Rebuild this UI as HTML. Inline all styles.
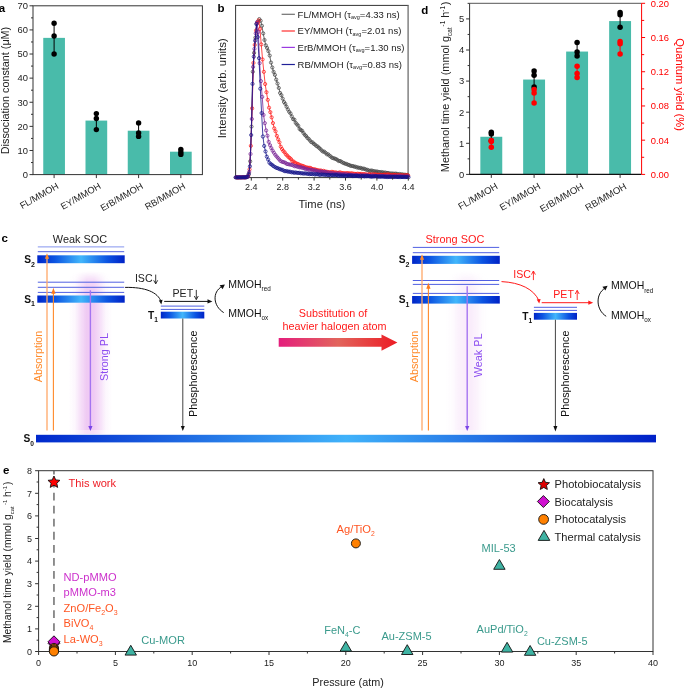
<!DOCTYPE html>
<html><head><meta charset="utf-8"><style>
html,body{margin:0;padding:0;background:#fff;}
svg{display:block;will-change:transform;}
text{font-family:"Liberation Sans", sans-serif;}
</style></head><body>
<svg width="685" height="688" viewBox="0 0 685 688" font-family="Liberation Sans, sans-serif">
<rect width="685" height="688" fill="#fff"/>
<rect x="43.25" y="37.87" width="21.7" height="136.73" fill="#49bbaa"/>
<rect x="85.50" y="120.58" width="21.7" height="54.02" fill="#49bbaa"/>
<rect x="127.75" y="130.71" width="21.7" height="43.89" fill="#49bbaa"/>
<rect x="170.00" y="151.69" width="21.7" height="22.91" fill="#49bbaa"/>
<line x1="54.10" y1="23.20" x2="54.10" y2="54.00" stroke="#000" stroke-width="1" />
<circle cx="54.10" cy="23.20" r="2.7" fill="#000"/>
<circle cx="54.10" cy="36.00" r="2.7" fill="#000"/>
<circle cx="54.10" cy="54.00" r="2.7" fill="#000"/>
<line x1="96.35" y1="113.60" x2="96.35" y2="129.60" stroke="#000" stroke-width="1" />
<circle cx="96.35" cy="113.60" r="2.7" fill="#000"/>
<circle cx="96.35" cy="118.50" r="2.7" fill="#000"/>
<circle cx="96.35" cy="129.60" r="2.7" fill="#000"/>
<line x1="138.60" y1="122.90" x2="138.60" y2="136.40" stroke="#000" stroke-width="1" />
<circle cx="138.60" cy="122.90" r="2.7" fill="#000"/>
<circle cx="138.60" cy="132.90" r="2.7" fill="#000"/>
<circle cx="138.60" cy="136.40" r="2.7" fill="#000"/>
<line x1="180.85" y1="149.50" x2="180.85" y2="154.40" stroke="#000" stroke-width="1" />
<circle cx="180.85" cy="149.50" r="2.7" fill="#000"/>
<circle cx="180.85" cy="152.20" r="2.7" fill="#000"/>
<circle cx="180.85" cy="154.40" r="2.7" fill="#000"/>
<rect x="33.0" y="5.8" width="169.4" height="168.79999999999998" fill="none" stroke="#333" stroke-width="1"/>
<line x1="29.50" y1="174.60" x2="33.00" y2="174.60" stroke="#333" stroke-width="1" />
<text x="28.00" y="177.90" font-size="9.4" text-anchor="end" fill="#222" font-weight="normal" >0</text>
<line x1="31.00" y1="162.54" x2="33.00" y2="162.54" stroke="#333" stroke-width="1" />
<line x1="29.50" y1="150.49" x2="33.00" y2="150.49" stroke="#333" stroke-width="1" />
<text x="28.00" y="153.79" font-size="9.4" text-anchor="end" fill="#222" font-weight="normal" >10</text>
<line x1="31.00" y1="138.43" x2="33.00" y2="138.43" stroke="#333" stroke-width="1" />
<line x1="29.50" y1="126.37" x2="33.00" y2="126.37" stroke="#333" stroke-width="1" />
<text x="28.00" y="129.67" font-size="9.4" text-anchor="end" fill="#222" font-weight="normal" >20</text>
<line x1="31.00" y1="114.31" x2="33.00" y2="114.31" stroke="#333" stroke-width="1" />
<line x1="29.50" y1="102.26" x2="33.00" y2="102.26" stroke="#333" stroke-width="1" />
<text x="28.00" y="105.56" font-size="9.4" text-anchor="end" fill="#222" font-weight="normal" >30</text>
<line x1="31.00" y1="90.20" x2="33.00" y2="90.20" stroke="#333" stroke-width="1" />
<line x1="29.50" y1="78.14" x2="33.00" y2="78.14" stroke="#333" stroke-width="1" />
<text x="28.00" y="81.44" font-size="9.4" text-anchor="end" fill="#222" font-weight="normal" >40</text>
<line x1="31.00" y1="66.09" x2="33.00" y2="66.09" stroke="#333" stroke-width="1" />
<line x1="29.50" y1="54.03" x2="33.00" y2="54.03" stroke="#333" stroke-width="1" />
<text x="28.00" y="57.33" font-size="9.4" text-anchor="end" fill="#222" font-weight="normal" >50</text>
<line x1="31.00" y1="41.97" x2="33.00" y2="41.97" stroke="#333" stroke-width="1" />
<line x1="29.50" y1="29.91" x2="33.00" y2="29.91" stroke="#333" stroke-width="1" />
<text x="28.00" y="33.21" font-size="9.4" text-anchor="end" fill="#222" font-weight="normal" >60</text>
<line x1="31.00" y1="17.86" x2="33.00" y2="17.86" stroke="#333" stroke-width="1" />
<line x1="29.50" y1="5.80" x2="33.00" y2="5.80" stroke="#333" stroke-width="1" />
<text x="28.00" y="9.10" font-size="9.4" text-anchor="end" fill="#222" font-weight="normal" >70</text>
<line x1="54.10" y1="174.60" x2="54.10" y2="178.10" stroke="#333" stroke-width="1" />
<line x1="96.35" y1="174.60" x2="96.35" y2="178.10" stroke="#333" stroke-width="1" />
<line x1="138.60" y1="174.60" x2="138.60" y2="178.10" stroke="#333" stroke-width="1" />
<line x1="180.85" y1="174.60" x2="180.85" y2="178.10" stroke="#333" stroke-width="1" />
<text x="59.30" y="187.80" font-size="9.3" text-anchor="end" fill="#222" transform="rotate(-30 59.30 187.80)">FL/MMOH</text>
<text x="101.55" y="187.80" font-size="9.3" text-anchor="end" fill="#222" transform="rotate(-30 101.55 187.80)">EY/MMOH</text>
<text x="143.80" y="187.80" font-size="9.3" text-anchor="end" fill="#222" transform="rotate(-30 143.80 187.80)">ErB/MMOH</text>
<text x="186.05" y="187.80" font-size="9.3" text-anchor="end" fill="#222" transform="rotate(-30 186.05 187.80)">RB/MMOH</text>
<text x="0" y="0" font-size="10.8" text-anchor="middle" fill="#222" transform="translate(9.2 90.5) rotate(-90)">Dissociation constant (μM)</text>
<text x="-1.20" y="12.20" font-size="11.5" text-anchor="start" fill="#000" font-weight="bold" >a</text>
<rect x="235.6" y="5.4" width="172.6" height="172.2" fill="none" stroke="#333" stroke-width="1"/>
<line x1="408.20" y1="5.40" x2="408.20" y2="178.10" stroke="#999" stroke-width="1.3" />
<clipPath id="cb"><rect x="232.6" y="5.4" width="178.6" height="174.2"/></clipPath>
<g clip-path="url(#cb)">
<path d="M235.90,177.50 L237.20,177.53 L238.50,177.47 L239.80,177.40 L241.10,177.43 L242.40,177.36 L243.70,177.44 L245.00,177.53 L246.30,177.17 L247.60,176.55 L248.90,173.65 L250.20,161.32 L251.50,126.61 L252.80,71.74 L254.10,52.85 L255.40,37.62 L256.70,23.64 L258.00,21.52 L259.30,19.10 L260.60,20.78 L261.90,25.76 L263.20,33.39 L264.50,39.99 L265.80,45.30 L267.10,47.97 L268.40,51.12 L269.70,55.54 L271.00,62.56 L272.30,67.48 L273.60,71.91 L274.90,74.87 L276.20,79.59 L277.50,83.56 L278.80,87.95 L280.10,92.95 L281.40,95.15 L282.70,98.66 L284.00,102.03 L285.30,103.90 L286.60,106.81 L287.90,109.46 L289.20,111.84 L290.50,113.43 L291.80,116.34 L293.10,119.14 L294.40,119.67 L295.70,122.88 L297.00,124.39 L298.30,125.85 L299.60,128.95 L300.90,130.07 L302.20,130.82 L303.50,133.07 L304.80,134.89 L306.10,136.06 L307.40,137.91 L308.70,138.93 L310.00,140.55 L311.30,142.11 L312.60,142.38 L313.90,143.90 L315.20,144.74 L316.50,146.08 L317.80,146.60 L319.10,147.90 L320.40,149.07 L321.70,150.51 L323.00,151.59 L324.30,151.64 L325.60,152.84 L326.90,154.34 L328.20,154.28 L329.50,155.68 L330.80,156.59 L332.10,157.77 L333.40,158.24 L334.70,158.53 L336.00,159.15 L337.30,159.81 L338.60,161.01 L339.90,160.98 L341.20,161.63 L342.50,162.50 L343.80,163.06 L345.10,163.67 L346.40,163.91 L347.70,164.65 L349.00,164.90 L350.30,165.74 L351.60,165.94 L352.90,166.09 L354.20,166.64 L355.50,166.69 L356.80,167.43 L358.10,167.47 L359.40,167.99 L360.70,167.85 L362.00,168.70 L363.30,168.58 L364.60,168.86 L365.90,169.64 L367.20,169.77 L368.50,170.28 L369.80,171.03 L371.10,170.49 L372.40,170.75 L373.70,171.16 L375.00,171.44 L376.30,171.48 L377.60,171.67 L378.90,172.07 L380.20,172.21 L381.50,172.05 L382.80,172.44 L384.10,172.65 L385.40,172.58 L386.70,173.04 L388.00,172.95 L389.30,173.50 L390.60,173.48 L391.90,173.59 L393.20,173.59 L394.50,173.83 L395.80,173.58 L397.10,173.90 L398.40,174.33 L399.70,173.96 L401.00,174.66 L402.30,174.27 L403.60,174.86 L404.90,174.65 L406.20,175.04 L407.50,174.98" fill="none" stroke="#454545" stroke-width="0.8"/>
<circle cx="235.90" cy="177.50" r="1.6" fill="none" stroke="#454545" stroke-width="0.75"/>
<circle cx="237.20" cy="177.53" r="1.6" fill="none" stroke="#454545" stroke-width="0.75"/>
<circle cx="238.50" cy="177.47" r="1.6" fill="none" stroke="#454545" stroke-width="0.75"/>
<circle cx="239.80" cy="177.40" r="1.6" fill="none" stroke="#454545" stroke-width="0.75"/>
<circle cx="241.10" cy="177.43" r="1.6" fill="none" stroke="#454545" stroke-width="0.75"/>
<circle cx="242.40" cy="177.36" r="1.6" fill="none" stroke="#454545" stroke-width="0.75"/>
<circle cx="243.70" cy="177.44" r="1.6" fill="none" stroke="#454545" stroke-width="0.75"/>
<circle cx="245.00" cy="177.53" r="1.6" fill="none" stroke="#454545" stroke-width="0.75"/>
<circle cx="246.30" cy="177.17" r="1.6" fill="none" stroke="#454545" stroke-width="0.75"/>
<circle cx="247.60" cy="176.55" r="1.6" fill="none" stroke="#454545" stroke-width="0.75"/>
<circle cx="248.90" cy="173.65" r="1.6" fill="none" stroke="#454545" stroke-width="0.75"/>
<circle cx="250.20" cy="161.32" r="1.6" fill="none" stroke="#454545" stroke-width="0.75"/>
<circle cx="251.50" cy="126.61" r="1.6" fill="none" stroke="#454545" stroke-width="0.75"/>
<circle cx="252.80" cy="71.74" r="1.6" fill="none" stroke="#454545" stroke-width="0.75"/>
<circle cx="254.10" cy="52.85" r="1.6" fill="none" stroke="#454545" stroke-width="0.75"/>
<circle cx="255.40" cy="37.62" r="1.6" fill="none" stroke="#454545" stroke-width="0.75"/>
<circle cx="256.70" cy="23.64" r="1.6" fill="none" stroke="#454545" stroke-width="0.75"/>
<circle cx="258.00" cy="21.52" r="1.6" fill="none" stroke="#454545" stroke-width="0.75"/>
<circle cx="259.30" cy="19.10" r="1.6" fill="none" stroke="#454545" stroke-width="0.75"/>
<circle cx="260.60" cy="20.78" r="1.6" fill="none" stroke="#454545" stroke-width="0.75"/>
<circle cx="261.90" cy="25.76" r="1.6" fill="none" stroke="#454545" stroke-width="0.75"/>
<circle cx="263.20" cy="33.39" r="1.6" fill="none" stroke="#454545" stroke-width="0.75"/>
<circle cx="264.50" cy="39.99" r="1.6" fill="none" stroke="#454545" stroke-width="0.75"/>
<circle cx="265.80" cy="45.30" r="1.6" fill="none" stroke="#454545" stroke-width="0.75"/>
<circle cx="267.10" cy="47.97" r="1.6" fill="none" stroke="#454545" stroke-width="0.75"/>
<circle cx="268.40" cy="51.12" r="1.6" fill="none" stroke="#454545" stroke-width="0.75"/>
<circle cx="269.70" cy="55.54" r="1.6" fill="none" stroke="#454545" stroke-width="0.75"/>
<circle cx="271.00" cy="62.56" r="1.6" fill="none" stroke="#454545" stroke-width="0.75"/>
<circle cx="272.30" cy="67.48" r="1.6" fill="none" stroke="#454545" stroke-width="0.75"/>
<circle cx="273.60" cy="71.91" r="1.6" fill="none" stroke="#454545" stroke-width="0.75"/>
<circle cx="274.90" cy="74.87" r="1.6" fill="none" stroke="#454545" stroke-width="0.75"/>
<circle cx="276.20" cy="79.59" r="1.6" fill="none" stroke="#454545" stroke-width="0.75"/>
<circle cx="277.50" cy="83.56" r="1.6" fill="none" stroke="#454545" stroke-width="0.75"/>
<circle cx="278.80" cy="87.95" r="1.6" fill="none" stroke="#454545" stroke-width="0.75"/>
<circle cx="280.10" cy="92.95" r="1.6" fill="none" stroke="#454545" stroke-width="0.75"/>
<circle cx="281.40" cy="95.15" r="1.6" fill="none" stroke="#454545" stroke-width="0.75"/>
<circle cx="282.70" cy="98.66" r="1.6" fill="none" stroke="#454545" stroke-width="0.75"/>
<circle cx="284.00" cy="102.03" r="1.6" fill="none" stroke="#454545" stroke-width="0.75"/>
<circle cx="285.30" cy="103.90" r="1.6" fill="none" stroke="#454545" stroke-width="0.75"/>
<circle cx="286.60" cy="106.81" r="1.6" fill="none" stroke="#454545" stroke-width="0.75"/>
<circle cx="287.90" cy="109.46" r="1.6" fill="none" stroke="#454545" stroke-width="0.75"/>
<circle cx="289.20" cy="111.84" r="1.6" fill="none" stroke="#454545" stroke-width="0.75"/>
<circle cx="290.50" cy="113.43" r="1.6" fill="none" stroke="#454545" stroke-width="0.75"/>
<circle cx="291.80" cy="116.34" r="1.6" fill="none" stroke="#454545" stroke-width="0.75"/>
<circle cx="293.10" cy="119.14" r="1.6" fill="none" stroke="#454545" stroke-width="0.75"/>
<circle cx="294.40" cy="119.67" r="1.6" fill="none" stroke="#454545" stroke-width="0.75"/>
<circle cx="295.70" cy="122.88" r="1.6" fill="none" stroke="#454545" stroke-width="0.75"/>
<circle cx="297.00" cy="124.39" r="1.6" fill="none" stroke="#454545" stroke-width="0.75"/>
<circle cx="298.30" cy="125.85" r="1.6" fill="none" stroke="#454545" stroke-width="0.75"/>
<circle cx="299.60" cy="128.95" r="1.6" fill="none" stroke="#454545" stroke-width="0.75"/>
<circle cx="300.90" cy="130.07" r="1.6" fill="none" stroke="#454545" stroke-width="0.75"/>
<circle cx="302.20" cy="130.82" r="1.6" fill="none" stroke="#454545" stroke-width="0.75"/>
<circle cx="303.50" cy="133.07" r="1.6" fill="none" stroke="#454545" stroke-width="0.75"/>
<circle cx="304.80" cy="134.89" r="1.6" fill="none" stroke="#454545" stroke-width="0.75"/>
<circle cx="306.10" cy="136.06" r="1.6" fill="none" stroke="#454545" stroke-width="0.75"/>
<circle cx="307.40" cy="137.91" r="1.6" fill="none" stroke="#454545" stroke-width="0.75"/>
<circle cx="308.70" cy="138.93" r="1.6" fill="none" stroke="#454545" stroke-width="0.75"/>
<circle cx="310.00" cy="140.55" r="1.6" fill="none" stroke="#454545" stroke-width="0.75"/>
<circle cx="311.30" cy="142.11" r="1.6" fill="none" stroke="#454545" stroke-width="0.75"/>
<circle cx="312.60" cy="142.38" r="1.6" fill="none" stroke="#454545" stroke-width="0.75"/>
<circle cx="313.90" cy="143.90" r="1.6" fill="none" stroke="#454545" stroke-width="0.75"/>
<circle cx="315.20" cy="144.74" r="1.6" fill="none" stroke="#454545" stroke-width="0.75"/>
<circle cx="316.50" cy="146.08" r="1.6" fill="none" stroke="#454545" stroke-width="0.75"/>
<circle cx="317.80" cy="146.60" r="1.6" fill="none" stroke="#454545" stroke-width="0.75"/>
<circle cx="319.10" cy="147.90" r="1.6" fill="none" stroke="#454545" stroke-width="0.75"/>
<circle cx="320.40" cy="149.07" r="1.6" fill="none" stroke="#454545" stroke-width="0.75"/>
<circle cx="321.70" cy="150.51" r="1.6" fill="none" stroke="#454545" stroke-width="0.75"/>
<circle cx="323.00" cy="151.59" r="1.6" fill="none" stroke="#454545" stroke-width="0.75"/>
<circle cx="324.30" cy="151.64" r="1.6" fill="none" stroke="#454545" stroke-width="0.75"/>
<circle cx="325.60" cy="152.84" r="1.6" fill="none" stroke="#454545" stroke-width="0.75"/>
<circle cx="326.90" cy="154.34" r="1.6" fill="none" stroke="#454545" stroke-width="0.75"/>
<circle cx="328.20" cy="154.28" r="1.6" fill="none" stroke="#454545" stroke-width="0.75"/>
<circle cx="329.50" cy="155.68" r="1.6" fill="none" stroke="#454545" stroke-width="0.75"/>
<circle cx="330.80" cy="156.59" r="1.6" fill="none" stroke="#454545" stroke-width="0.75"/>
<circle cx="332.10" cy="157.77" r="1.6" fill="none" stroke="#454545" stroke-width="0.75"/>
<circle cx="333.40" cy="158.24" r="1.6" fill="none" stroke="#454545" stroke-width="0.75"/>
<circle cx="334.70" cy="158.53" r="1.6" fill="none" stroke="#454545" stroke-width="0.75"/>
<circle cx="336.00" cy="159.15" r="1.6" fill="none" stroke="#454545" stroke-width="0.75"/>
<circle cx="337.30" cy="159.81" r="1.6" fill="none" stroke="#454545" stroke-width="0.75"/>
<circle cx="338.60" cy="161.01" r="1.6" fill="none" stroke="#454545" stroke-width="0.75"/>
<circle cx="339.90" cy="160.98" r="1.6" fill="none" stroke="#454545" stroke-width="0.75"/>
<circle cx="341.20" cy="161.63" r="1.6" fill="none" stroke="#454545" stroke-width="0.75"/>
<circle cx="342.50" cy="162.50" r="1.6" fill="none" stroke="#454545" stroke-width="0.75"/>
<circle cx="343.80" cy="163.06" r="1.6" fill="none" stroke="#454545" stroke-width="0.75"/>
<circle cx="345.10" cy="163.67" r="1.6" fill="none" stroke="#454545" stroke-width="0.75"/>
<circle cx="346.40" cy="163.91" r="1.6" fill="none" stroke="#454545" stroke-width="0.75"/>
<circle cx="347.70" cy="164.65" r="1.6" fill="none" stroke="#454545" stroke-width="0.75"/>
<circle cx="349.00" cy="164.90" r="1.6" fill="none" stroke="#454545" stroke-width="0.75"/>
<circle cx="350.30" cy="165.74" r="1.6" fill="none" stroke="#454545" stroke-width="0.75"/>
<circle cx="351.60" cy="165.94" r="1.6" fill="none" stroke="#454545" stroke-width="0.75"/>
<circle cx="352.90" cy="166.09" r="1.6" fill="none" stroke="#454545" stroke-width="0.75"/>
<circle cx="354.20" cy="166.64" r="1.6" fill="none" stroke="#454545" stroke-width="0.75"/>
<circle cx="355.50" cy="166.69" r="1.6" fill="none" stroke="#454545" stroke-width="0.75"/>
<circle cx="356.80" cy="167.43" r="1.6" fill="none" stroke="#454545" stroke-width="0.75"/>
<circle cx="358.10" cy="167.47" r="1.6" fill="none" stroke="#454545" stroke-width="0.75"/>
<circle cx="359.40" cy="167.99" r="1.6" fill="none" stroke="#454545" stroke-width="0.75"/>
<circle cx="360.70" cy="167.85" r="1.6" fill="none" stroke="#454545" stroke-width="0.75"/>
<circle cx="362.00" cy="168.70" r="1.6" fill="none" stroke="#454545" stroke-width="0.75"/>
<circle cx="363.30" cy="168.58" r="1.6" fill="none" stroke="#454545" stroke-width="0.75"/>
<circle cx="364.60" cy="168.86" r="1.6" fill="none" stroke="#454545" stroke-width="0.75"/>
<circle cx="365.90" cy="169.64" r="1.6" fill="none" stroke="#454545" stroke-width="0.75"/>
<circle cx="367.20" cy="169.77" r="1.6" fill="none" stroke="#454545" stroke-width="0.75"/>
<circle cx="368.50" cy="170.28" r="1.6" fill="none" stroke="#454545" stroke-width="0.75"/>
<circle cx="369.80" cy="171.03" r="1.6" fill="none" stroke="#454545" stroke-width="0.75"/>
<circle cx="371.10" cy="170.49" r="1.6" fill="none" stroke="#454545" stroke-width="0.75"/>
<circle cx="372.40" cy="170.75" r="1.6" fill="none" stroke="#454545" stroke-width="0.75"/>
<circle cx="373.70" cy="171.16" r="1.6" fill="none" stroke="#454545" stroke-width="0.75"/>
<circle cx="375.00" cy="171.44" r="1.6" fill="none" stroke="#454545" stroke-width="0.75"/>
<circle cx="376.30" cy="171.48" r="1.6" fill="none" stroke="#454545" stroke-width="0.75"/>
<circle cx="377.60" cy="171.67" r="1.6" fill="none" stroke="#454545" stroke-width="0.75"/>
<circle cx="378.90" cy="172.07" r="1.6" fill="none" stroke="#454545" stroke-width="0.75"/>
<circle cx="380.20" cy="172.21" r="1.6" fill="none" stroke="#454545" stroke-width="0.75"/>
<circle cx="381.50" cy="172.05" r="1.6" fill="none" stroke="#454545" stroke-width="0.75"/>
<circle cx="382.80" cy="172.44" r="1.6" fill="none" stroke="#454545" stroke-width="0.75"/>
<circle cx="384.10" cy="172.65" r="1.6" fill="none" stroke="#454545" stroke-width="0.75"/>
<circle cx="385.40" cy="172.58" r="1.6" fill="none" stroke="#454545" stroke-width="0.75"/>
<circle cx="386.70" cy="173.04" r="1.6" fill="none" stroke="#454545" stroke-width="0.75"/>
<circle cx="388.00" cy="172.95" r="1.6" fill="none" stroke="#454545" stroke-width="0.75"/>
<circle cx="389.30" cy="173.50" r="1.6" fill="none" stroke="#454545" stroke-width="0.75"/>
<circle cx="390.60" cy="173.48" r="1.6" fill="none" stroke="#454545" stroke-width="0.75"/>
<circle cx="391.90" cy="173.59" r="1.6" fill="none" stroke="#454545" stroke-width="0.75"/>
<circle cx="393.20" cy="173.59" r="1.6" fill="none" stroke="#454545" stroke-width="0.75"/>
<circle cx="394.50" cy="173.83" r="1.6" fill="none" stroke="#454545" stroke-width="0.75"/>
<circle cx="395.80" cy="173.58" r="1.6" fill="none" stroke="#454545" stroke-width="0.75"/>
<circle cx="397.10" cy="173.90" r="1.6" fill="none" stroke="#454545" stroke-width="0.75"/>
<circle cx="398.40" cy="174.33" r="1.6" fill="none" stroke="#454545" stroke-width="0.75"/>
<circle cx="399.70" cy="173.96" r="1.6" fill="none" stroke="#454545" stroke-width="0.75"/>
<circle cx="401.00" cy="174.66" r="1.6" fill="none" stroke="#454545" stroke-width="0.75"/>
<circle cx="402.30" cy="174.27" r="1.6" fill="none" stroke="#454545" stroke-width="0.75"/>
<circle cx="403.60" cy="174.86" r="1.6" fill="none" stroke="#454545" stroke-width="0.75"/>
<circle cx="404.90" cy="174.65" r="1.6" fill="none" stroke="#454545" stroke-width="0.75"/>
<circle cx="406.20" cy="175.04" r="1.6" fill="none" stroke="#454545" stroke-width="0.75"/>
<circle cx="407.50" cy="174.98" r="1.6" fill="none" stroke="#454545" stroke-width="0.75"/>
<path d="M236.55,177.35 L237.85,177.62 L239.15,177.63 L240.45,177.47 L241.75,177.44 L243.05,177.43 L244.35,177.32 L245.65,177.47 L246.95,176.94 L248.25,175.80 L249.55,169.44 L250.85,145.83 L252.15,108.33 L253.45,62.96 L254.75,44.90 L256.05,30.51 L257.35,22.95 L258.65,20.38 L259.95,28.95 L261.25,44.42 L262.55,59.40 L263.85,71.83 L265.15,84.03 L266.45,92.18 L267.75,99.86 L269.05,107.67 L270.35,112.15 L271.65,117.31 L272.95,123.10 L274.25,128.38 L275.55,131.31 L276.85,135.82 L278.15,139.32 L279.45,142.28 L280.75,146.65 L282.05,149.03 L283.35,151.05 L284.65,152.40 L285.95,154.45 L287.25,155.57 L288.55,157.11 L289.85,158.08 L291.15,159.26 L292.45,161.22 L293.75,161.62 L295.05,162.78 L296.35,163.45 L297.65,163.98 L298.95,164.52 L300.25,165.36 L301.55,165.55 L302.85,166.04 L304.15,166.50 L305.45,167.22 L306.75,167.46 L308.05,167.74 L309.35,167.84 L310.65,167.96 L311.95,168.91 L313.25,169.23 L314.55,169.25 L315.85,169.72 L317.15,170.06 L318.45,170.34 L319.75,170.62 L321.05,170.53 L322.35,171.27 L323.65,170.85 L324.95,171.57 L326.25,171.68 L327.55,171.94 L328.85,172.34 L330.15,172.40 L331.45,171.94 L332.75,171.95 L334.05,172.64 L335.35,172.34 L336.65,172.67 L337.95,172.96 L339.25,172.51 L340.55,172.51 L341.85,173.12 L343.15,173.16 L344.45,173.18 L345.75,173.32 L347.05,173.21 L348.35,173.15 L349.65,173.51 L350.95,173.42 L352.25,173.35 L353.55,173.86 L354.85,173.81 L356.15,173.97 L357.45,173.75 L358.75,173.88 L360.05,173.87 L361.35,173.95 L362.65,174.22 L363.95,174.07 L365.25,174.35 L366.55,174.40 L367.85,174.77 L369.15,174.15 L370.45,174.64 L371.75,174.49 L373.05,174.55 L374.35,174.31 L375.65,174.55 L376.95,174.82 L378.25,174.70 L379.55,174.76 L380.85,174.73 L382.15,175.04 L383.45,174.85 L384.75,174.48 L386.05,174.79 L387.35,174.59 L388.65,174.38 L389.95,174.92 L391.25,175.30 L392.55,175.09 L393.85,174.89 L395.15,174.96 L396.45,175.37 L397.75,175.22 L399.05,175.23 L400.35,175.23 L401.65,175.28 L402.95,175.44 L404.25,175.42 L405.55,175.38 L406.85,175.18 L408.15,175.47" fill="none" stroke="#ff1a1a" stroke-width="0.8"/>
<circle cx="236.55" cy="177.35" r="1.6" fill="none" stroke="#ff1a1a" stroke-width="0.75"/>
<circle cx="237.85" cy="177.62" r="1.6" fill="none" stroke="#ff1a1a" stroke-width="0.75"/>
<circle cx="239.15" cy="177.63" r="1.6" fill="none" stroke="#ff1a1a" stroke-width="0.75"/>
<circle cx="240.45" cy="177.47" r="1.6" fill="none" stroke="#ff1a1a" stroke-width="0.75"/>
<circle cx="241.75" cy="177.44" r="1.6" fill="none" stroke="#ff1a1a" stroke-width="0.75"/>
<circle cx="243.05" cy="177.43" r="1.6" fill="none" stroke="#ff1a1a" stroke-width="0.75"/>
<circle cx="244.35" cy="177.32" r="1.6" fill="none" stroke="#ff1a1a" stroke-width="0.75"/>
<circle cx="245.65" cy="177.47" r="1.6" fill="none" stroke="#ff1a1a" stroke-width="0.75"/>
<circle cx="246.95" cy="176.94" r="1.6" fill="none" stroke="#ff1a1a" stroke-width="0.75"/>
<circle cx="248.25" cy="175.80" r="1.6" fill="none" stroke="#ff1a1a" stroke-width="0.75"/>
<circle cx="249.55" cy="169.44" r="1.6" fill="none" stroke="#ff1a1a" stroke-width="0.75"/>
<circle cx="250.85" cy="145.83" r="1.6" fill="none" stroke="#ff1a1a" stroke-width="0.75"/>
<circle cx="252.15" cy="108.33" r="1.6" fill="none" stroke="#ff1a1a" stroke-width="0.75"/>
<circle cx="253.45" cy="62.96" r="1.6" fill="none" stroke="#ff1a1a" stroke-width="0.75"/>
<circle cx="254.75" cy="44.90" r="1.6" fill="none" stroke="#ff1a1a" stroke-width="0.75"/>
<circle cx="256.05" cy="30.51" r="1.6" fill="none" stroke="#ff1a1a" stroke-width="0.75"/>
<circle cx="257.35" cy="22.95" r="1.6" fill="none" stroke="#ff1a1a" stroke-width="0.75"/>
<circle cx="258.65" cy="20.38" r="1.6" fill="none" stroke="#ff1a1a" stroke-width="0.75"/>
<circle cx="259.95" cy="28.95" r="1.6" fill="none" stroke="#ff1a1a" stroke-width="0.75"/>
<circle cx="261.25" cy="44.42" r="1.6" fill="none" stroke="#ff1a1a" stroke-width="0.75"/>
<circle cx="262.55" cy="59.40" r="1.6" fill="none" stroke="#ff1a1a" stroke-width="0.75"/>
<circle cx="263.85" cy="71.83" r="1.6" fill="none" stroke="#ff1a1a" stroke-width="0.75"/>
<circle cx="265.15" cy="84.03" r="1.6" fill="none" stroke="#ff1a1a" stroke-width="0.75"/>
<circle cx="266.45" cy="92.18" r="1.6" fill="none" stroke="#ff1a1a" stroke-width="0.75"/>
<circle cx="267.75" cy="99.86" r="1.6" fill="none" stroke="#ff1a1a" stroke-width="0.75"/>
<circle cx="269.05" cy="107.67" r="1.6" fill="none" stroke="#ff1a1a" stroke-width="0.75"/>
<circle cx="270.35" cy="112.15" r="1.6" fill="none" stroke="#ff1a1a" stroke-width="0.75"/>
<circle cx="271.65" cy="117.31" r="1.6" fill="none" stroke="#ff1a1a" stroke-width="0.75"/>
<circle cx="272.95" cy="123.10" r="1.6" fill="none" stroke="#ff1a1a" stroke-width="0.75"/>
<circle cx="274.25" cy="128.38" r="1.6" fill="none" stroke="#ff1a1a" stroke-width="0.75"/>
<circle cx="275.55" cy="131.31" r="1.6" fill="none" stroke="#ff1a1a" stroke-width="0.75"/>
<circle cx="276.85" cy="135.82" r="1.6" fill="none" stroke="#ff1a1a" stroke-width="0.75"/>
<circle cx="278.15" cy="139.32" r="1.6" fill="none" stroke="#ff1a1a" stroke-width="0.75"/>
<circle cx="279.45" cy="142.28" r="1.6" fill="none" stroke="#ff1a1a" stroke-width="0.75"/>
<circle cx="280.75" cy="146.65" r="1.6" fill="none" stroke="#ff1a1a" stroke-width="0.75"/>
<circle cx="282.05" cy="149.03" r="1.6" fill="none" stroke="#ff1a1a" stroke-width="0.75"/>
<circle cx="283.35" cy="151.05" r="1.6" fill="none" stroke="#ff1a1a" stroke-width="0.75"/>
<circle cx="284.65" cy="152.40" r="1.6" fill="none" stroke="#ff1a1a" stroke-width="0.75"/>
<circle cx="285.95" cy="154.45" r="1.6" fill="none" stroke="#ff1a1a" stroke-width="0.75"/>
<circle cx="287.25" cy="155.57" r="1.6" fill="none" stroke="#ff1a1a" stroke-width="0.75"/>
<circle cx="288.55" cy="157.11" r="1.6" fill="none" stroke="#ff1a1a" stroke-width="0.75"/>
<circle cx="289.85" cy="158.08" r="1.6" fill="none" stroke="#ff1a1a" stroke-width="0.75"/>
<circle cx="291.15" cy="159.26" r="1.6" fill="none" stroke="#ff1a1a" stroke-width="0.75"/>
<circle cx="292.45" cy="161.22" r="1.6" fill="none" stroke="#ff1a1a" stroke-width="0.75"/>
<circle cx="293.75" cy="161.62" r="1.6" fill="none" stroke="#ff1a1a" stroke-width="0.75"/>
<circle cx="295.05" cy="162.78" r="1.6" fill="none" stroke="#ff1a1a" stroke-width="0.75"/>
<circle cx="296.35" cy="163.45" r="1.6" fill="none" stroke="#ff1a1a" stroke-width="0.75"/>
<circle cx="297.65" cy="163.98" r="1.6" fill="none" stroke="#ff1a1a" stroke-width="0.75"/>
<circle cx="298.95" cy="164.52" r="1.6" fill="none" stroke="#ff1a1a" stroke-width="0.75"/>
<circle cx="300.25" cy="165.36" r="1.6" fill="none" stroke="#ff1a1a" stroke-width="0.75"/>
<circle cx="301.55" cy="165.55" r="1.6" fill="none" stroke="#ff1a1a" stroke-width="0.75"/>
<circle cx="302.85" cy="166.04" r="1.6" fill="none" stroke="#ff1a1a" stroke-width="0.75"/>
<circle cx="304.15" cy="166.50" r="1.6" fill="none" stroke="#ff1a1a" stroke-width="0.75"/>
<circle cx="305.45" cy="167.22" r="1.6" fill="none" stroke="#ff1a1a" stroke-width="0.75"/>
<circle cx="306.75" cy="167.46" r="1.6" fill="none" stroke="#ff1a1a" stroke-width="0.75"/>
<circle cx="308.05" cy="167.74" r="1.6" fill="none" stroke="#ff1a1a" stroke-width="0.75"/>
<circle cx="309.35" cy="167.84" r="1.6" fill="none" stroke="#ff1a1a" stroke-width="0.75"/>
<circle cx="310.65" cy="167.96" r="1.6" fill="none" stroke="#ff1a1a" stroke-width="0.75"/>
<circle cx="311.95" cy="168.91" r="1.6" fill="none" stroke="#ff1a1a" stroke-width="0.75"/>
<circle cx="313.25" cy="169.23" r="1.6" fill="none" stroke="#ff1a1a" stroke-width="0.75"/>
<circle cx="314.55" cy="169.25" r="1.6" fill="none" stroke="#ff1a1a" stroke-width="0.75"/>
<circle cx="315.85" cy="169.72" r="1.6" fill="none" stroke="#ff1a1a" stroke-width="0.75"/>
<circle cx="317.15" cy="170.06" r="1.6" fill="none" stroke="#ff1a1a" stroke-width="0.75"/>
<circle cx="318.45" cy="170.34" r="1.6" fill="none" stroke="#ff1a1a" stroke-width="0.75"/>
<circle cx="319.75" cy="170.62" r="1.6" fill="none" stroke="#ff1a1a" stroke-width="0.75"/>
<circle cx="321.05" cy="170.53" r="1.6" fill="none" stroke="#ff1a1a" stroke-width="0.75"/>
<circle cx="322.35" cy="171.27" r="1.6" fill="none" stroke="#ff1a1a" stroke-width="0.75"/>
<circle cx="323.65" cy="170.85" r="1.6" fill="none" stroke="#ff1a1a" stroke-width="0.75"/>
<circle cx="324.95" cy="171.57" r="1.6" fill="none" stroke="#ff1a1a" stroke-width="0.75"/>
<circle cx="326.25" cy="171.68" r="1.6" fill="none" stroke="#ff1a1a" stroke-width="0.75"/>
<circle cx="327.55" cy="171.94" r="1.6" fill="none" stroke="#ff1a1a" stroke-width="0.75"/>
<circle cx="328.85" cy="172.34" r="1.6" fill="none" stroke="#ff1a1a" stroke-width="0.75"/>
<circle cx="330.15" cy="172.40" r="1.6" fill="none" stroke="#ff1a1a" stroke-width="0.75"/>
<circle cx="331.45" cy="171.94" r="1.6" fill="none" stroke="#ff1a1a" stroke-width="0.75"/>
<circle cx="332.75" cy="171.95" r="1.6" fill="none" stroke="#ff1a1a" stroke-width="0.75"/>
<circle cx="334.05" cy="172.64" r="1.6" fill="none" stroke="#ff1a1a" stroke-width="0.75"/>
<circle cx="335.35" cy="172.34" r="1.6" fill="none" stroke="#ff1a1a" stroke-width="0.75"/>
<circle cx="336.65" cy="172.67" r="1.6" fill="none" stroke="#ff1a1a" stroke-width="0.75"/>
<circle cx="337.95" cy="172.96" r="1.6" fill="none" stroke="#ff1a1a" stroke-width="0.75"/>
<circle cx="339.25" cy="172.51" r="1.6" fill="none" stroke="#ff1a1a" stroke-width="0.75"/>
<circle cx="340.55" cy="172.51" r="1.6" fill="none" stroke="#ff1a1a" stroke-width="0.75"/>
<circle cx="341.85" cy="173.12" r="1.6" fill="none" stroke="#ff1a1a" stroke-width="0.75"/>
<circle cx="343.15" cy="173.16" r="1.6" fill="none" stroke="#ff1a1a" stroke-width="0.75"/>
<circle cx="344.45" cy="173.18" r="1.6" fill="none" stroke="#ff1a1a" stroke-width="0.75"/>
<circle cx="345.75" cy="173.32" r="1.6" fill="none" stroke="#ff1a1a" stroke-width="0.75"/>
<circle cx="347.05" cy="173.21" r="1.6" fill="none" stroke="#ff1a1a" stroke-width="0.75"/>
<circle cx="348.35" cy="173.15" r="1.6" fill="none" stroke="#ff1a1a" stroke-width="0.75"/>
<circle cx="349.65" cy="173.51" r="1.6" fill="none" stroke="#ff1a1a" stroke-width="0.75"/>
<circle cx="350.95" cy="173.42" r="1.6" fill="none" stroke="#ff1a1a" stroke-width="0.75"/>
<circle cx="352.25" cy="173.35" r="1.6" fill="none" stroke="#ff1a1a" stroke-width="0.75"/>
<circle cx="353.55" cy="173.86" r="1.6" fill="none" stroke="#ff1a1a" stroke-width="0.75"/>
<circle cx="354.85" cy="173.81" r="1.6" fill="none" stroke="#ff1a1a" stroke-width="0.75"/>
<circle cx="356.15" cy="173.97" r="1.6" fill="none" stroke="#ff1a1a" stroke-width="0.75"/>
<circle cx="357.45" cy="173.75" r="1.6" fill="none" stroke="#ff1a1a" stroke-width="0.75"/>
<circle cx="358.75" cy="173.88" r="1.6" fill="none" stroke="#ff1a1a" stroke-width="0.75"/>
<circle cx="360.05" cy="173.87" r="1.6" fill="none" stroke="#ff1a1a" stroke-width="0.75"/>
<circle cx="361.35" cy="173.95" r="1.6" fill="none" stroke="#ff1a1a" stroke-width="0.75"/>
<circle cx="362.65" cy="174.22" r="1.6" fill="none" stroke="#ff1a1a" stroke-width="0.75"/>
<circle cx="363.95" cy="174.07" r="1.6" fill="none" stroke="#ff1a1a" stroke-width="0.75"/>
<circle cx="365.25" cy="174.35" r="1.6" fill="none" stroke="#ff1a1a" stroke-width="0.75"/>
<circle cx="366.55" cy="174.40" r="1.6" fill="none" stroke="#ff1a1a" stroke-width="0.75"/>
<circle cx="367.85" cy="174.77" r="1.6" fill="none" stroke="#ff1a1a" stroke-width="0.75"/>
<circle cx="369.15" cy="174.15" r="1.6" fill="none" stroke="#ff1a1a" stroke-width="0.75"/>
<circle cx="370.45" cy="174.64" r="1.6" fill="none" stroke="#ff1a1a" stroke-width="0.75"/>
<circle cx="371.75" cy="174.49" r="1.6" fill="none" stroke="#ff1a1a" stroke-width="0.75"/>
<circle cx="373.05" cy="174.55" r="1.6" fill="none" stroke="#ff1a1a" stroke-width="0.75"/>
<circle cx="374.35" cy="174.31" r="1.6" fill="none" stroke="#ff1a1a" stroke-width="0.75"/>
<circle cx="375.65" cy="174.55" r="1.6" fill="none" stroke="#ff1a1a" stroke-width="0.75"/>
<circle cx="376.95" cy="174.82" r="1.6" fill="none" stroke="#ff1a1a" stroke-width="0.75"/>
<circle cx="378.25" cy="174.70" r="1.6" fill="none" stroke="#ff1a1a" stroke-width="0.75"/>
<circle cx="379.55" cy="174.76" r="1.6" fill="none" stroke="#ff1a1a" stroke-width="0.75"/>
<circle cx="380.85" cy="174.73" r="1.6" fill="none" stroke="#ff1a1a" stroke-width="0.75"/>
<circle cx="382.15" cy="175.04" r="1.6" fill="none" stroke="#ff1a1a" stroke-width="0.75"/>
<circle cx="383.45" cy="174.85" r="1.6" fill="none" stroke="#ff1a1a" stroke-width="0.75"/>
<circle cx="384.75" cy="174.48" r="1.6" fill="none" stroke="#ff1a1a" stroke-width="0.75"/>
<circle cx="386.05" cy="174.79" r="1.6" fill="none" stroke="#ff1a1a" stroke-width="0.75"/>
<circle cx="387.35" cy="174.59" r="1.6" fill="none" stroke="#ff1a1a" stroke-width="0.75"/>
<circle cx="388.65" cy="174.38" r="1.6" fill="none" stroke="#ff1a1a" stroke-width="0.75"/>
<circle cx="389.95" cy="174.92" r="1.6" fill="none" stroke="#ff1a1a" stroke-width="0.75"/>
<circle cx="391.25" cy="175.30" r="1.6" fill="none" stroke="#ff1a1a" stroke-width="0.75"/>
<circle cx="392.55" cy="175.09" r="1.6" fill="none" stroke="#ff1a1a" stroke-width="0.75"/>
<circle cx="393.85" cy="174.89" r="1.6" fill="none" stroke="#ff1a1a" stroke-width="0.75"/>
<circle cx="395.15" cy="174.96" r="1.6" fill="none" stroke="#ff1a1a" stroke-width="0.75"/>
<circle cx="396.45" cy="175.37" r="1.6" fill="none" stroke="#ff1a1a" stroke-width="0.75"/>
<circle cx="397.75" cy="175.22" r="1.6" fill="none" stroke="#ff1a1a" stroke-width="0.75"/>
<circle cx="399.05" cy="175.23" r="1.6" fill="none" stroke="#ff1a1a" stroke-width="0.75"/>
<circle cx="400.35" cy="175.23" r="1.6" fill="none" stroke="#ff1a1a" stroke-width="0.75"/>
<circle cx="401.65" cy="175.28" r="1.6" fill="none" stroke="#ff1a1a" stroke-width="0.75"/>
<circle cx="402.95" cy="175.44" r="1.6" fill="none" stroke="#ff1a1a" stroke-width="0.75"/>
<circle cx="404.25" cy="175.42" r="1.6" fill="none" stroke="#ff1a1a" stroke-width="0.75"/>
<circle cx="405.55" cy="175.38" r="1.6" fill="none" stroke="#ff1a1a" stroke-width="0.75"/>
<circle cx="406.85" cy="175.18" r="1.6" fill="none" stroke="#ff1a1a" stroke-width="0.75"/>
<circle cx="408.15" cy="175.47" r="1.6" fill="none" stroke="#ff1a1a" stroke-width="0.75"/>
<path d="M236.22,177.43 L237.52,177.61 L238.82,177.36 L240.12,177.47 L241.42,177.47 L242.72,177.32 L244.02,177.60 L245.32,177.54 L246.62,177.08 L247.92,176.50 L249.22,171.94 L250.52,153.98 L251.82,118.96 L253.12,66.90 L254.42,48.87 L255.72,33.40 L257.02,22.17 L258.32,31.97 L259.62,63.15 L260.92,81.11 L262.22,96.90 L263.52,114.94 L264.82,123.15 L266.12,130.44 L267.42,135.72 L268.72,141.93 L270.02,145.17 L271.32,148.11 L272.62,150.65 L273.92,152.72 L275.22,154.76 L276.52,156.34 L277.82,157.86 L279.12,159.34 L280.42,160.94 L281.72,161.54 L283.02,162.02 L284.32,162.41 L285.62,162.90 L286.92,164.05 L288.22,164.15 L289.52,164.44 L290.82,164.72 L292.12,164.89 L293.42,165.58 L294.72,166.23 L296.02,166.23 L297.32,166.64 L298.62,166.99 L299.92,167.42 L301.22,167.27 L302.52,167.96 L303.82,168.10 L305.12,168.86 L306.42,168.72 L307.72,169.35 L309.02,169.87 L310.32,169.67 L311.62,169.86 L312.92,170.31 L314.22,170.51 L315.52,170.51 L316.82,171.10 L318.12,171.69 L319.42,171.37 L320.72,171.59 L322.02,171.59 L323.32,172.10 L324.62,171.92 L325.92,172.13 L327.22,172.82 L328.52,172.50 L329.82,173.10 L331.12,173.35 L332.42,173.22 L333.72,173.44 L335.02,173.88 L336.32,173.57 L337.62,173.62 L338.92,173.60 L340.22,174.02 L341.52,174.43 L342.82,174.45 L344.12,174.19 L345.42,174.32 L346.72,174.49 L348.02,174.74 L349.32,174.75 L350.62,174.92 L351.92,175.02 L353.22,174.99 L354.52,175.11 L355.82,175.23 L357.12,175.24 L358.42,175.41 L359.72,175.71 L361.02,175.53 L362.32,175.49 L363.62,175.23 L364.92,175.64 L366.22,175.28 L367.52,175.43 L368.82,175.87 L370.12,175.88 L371.42,175.78 L372.72,175.56 L374.02,175.83 L375.32,175.82 L376.62,176.08 L377.92,176.38 L379.22,176.08 L380.52,175.95 L381.82,175.92 L383.12,176.14 L384.42,176.15 L385.72,176.02 L387.02,176.26 L388.32,176.08 L389.62,176.47 L390.92,176.48 L392.22,176.51 L393.52,176.28 L394.82,176.46 L396.12,176.38 L397.42,176.35 L398.72,176.38 L400.02,176.24 L401.32,176.23 L402.62,176.59 L403.92,176.45 L405.22,176.52 L406.52,176.64 L407.82,176.23" fill="none" stroke="#7a2596" stroke-width="0.8"/>
<circle cx="236.22" cy="177.43" r="1.6" fill="none" stroke="#7a2596" stroke-width="0.75"/>
<circle cx="237.52" cy="177.61" r="1.6" fill="none" stroke="#7a2596" stroke-width="0.75"/>
<circle cx="238.82" cy="177.36" r="1.6" fill="none" stroke="#7a2596" stroke-width="0.75"/>
<circle cx="240.12" cy="177.47" r="1.6" fill="none" stroke="#7a2596" stroke-width="0.75"/>
<circle cx="241.42" cy="177.47" r="1.6" fill="none" stroke="#7a2596" stroke-width="0.75"/>
<circle cx="242.72" cy="177.32" r="1.6" fill="none" stroke="#7a2596" stroke-width="0.75"/>
<circle cx="244.02" cy="177.60" r="1.6" fill="none" stroke="#7a2596" stroke-width="0.75"/>
<circle cx="245.32" cy="177.54" r="1.6" fill="none" stroke="#7a2596" stroke-width="0.75"/>
<circle cx="246.62" cy="177.08" r="1.6" fill="none" stroke="#7a2596" stroke-width="0.75"/>
<circle cx="247.92" cy="176.50" r="1.6" fill="none" stroke="#7a2596" stroke-width="0.75"/>
<circle cx="249.22" cy="171.94" r="1.6" fill="none" stroke="#7a2596" stroke-width="0.75"/>
<circle cx="250.52" cy="153.98" r="1.6" fill="none" stroke="#7a2596" stroke-width="0.75"/>
<circle cx="251.82" cy="118.96" r="1.6" fill="none" stroke="#7a2596" stroke-width="0.75"/>
<circle cx="253.12" cy="66.90" r="1.6" fill="none" stroke="#7a2596" stroke-width="0.75"/>
<circle cx="254.42" cy="48.87" r="1.6" fill="none" stroke="#7a2596" stroke-width="0.75"/>
<circle cx="255.72" cy="33.40" r="1.6" fill="none" stroke="#7a2596" stroke-width="0.75"/>
<circle cx="257.02" cy="22.17" r="1.6" fill="none" stroke="#7a2596" stroke-width="0.75"/>
<circle cx="258.32" cy="31.97" r="1.6" fill="none" stroke="#7a2596" stroke-width="0.75"/>
<circle cx="259.62" cy="63.15" r="1.6" fill="none" stroke="#7a2596" stroke-width="0.75"/>
<circle cx="260.92" cy="81.11" r="1.6" fill="none" stroke="#7a2596" stroke-width="0.75"/>
<circle cx="262.22" cy="96.90" r="1.6" fill="none" stroke="#7a2596" stroke-width="0.75"/>
<circle cx="263.52" cy="114.94" r="1.6" fill="none" stroke="#7a2596" stroke-width="0.75"/>
<circle cx="264.82" cy="123.15" r="1.6" fill="none" stroke="#7a2596" stroke-width="0.75"/>
<circle cx="266.12" cy="130.44" r="1.6" fill="none" stroke="#7a2596" stroke-width="0.75"/>
<circle cx="267.42" cy="135.72" r="1.6" fill="none" stroke="#7a2596" stroke-width="0.75"/>
<circle cx="268.72" cy="141.93" r="1.6" fill="none" stroke="#7a2596" stroke-width="0.75"/>
<circle cx="270.02" cy="145.17" r="1.6" fill="none" stroke="#7a2596" stroke-width="0.75"/>
<circle cx="271.32" cy="148.11" r="1.6" fill="none" stroke="#7a2596" stroke-width="0.75"/>
<circle cx="272.62" cy="150.65" r="1.6" fill="none" stroke="#7a2596" stroke-width="0.75"/>
<circle cx="273.92" cy="152.72" r="1.6" fill="none" stroke="#7a2596" stroke-width="0.75"/>
<circle cx="275.22" cy="154.76" r="1.6" fill="none" stroke="#7a2596" stroke-width="0.75"/>
<circle cx="276.52" cy="156.34" r="1.6" fill="none" stroke="#7a2596" stroke-width="0.75"/>
<circle cx="277.82" cy="157.86" r="1.6" fill="none" stroke="#7a2596" stroke-width="0.75"/>
<circle cx="279.12" cy="159.34" r="1.6" fill="none" stroke="#7a2596" stroke-width="0.75"/>
<circle cx="280.42" cy="160.94" r="1.6" fill="none" stroke="#7a2596" stroke-width="0.75"/>
<circle cx="281.72" cy="161.54" r="1.6" fill="none" stroke="#7a2596" stroke-width="0.75"/>
<circle cx="283.02" cy="162.02" r="1.6" fill="none" stroke="#7a2596" stroke-width="0.75"/>
<circle cx="284.32" cy="162.41" r="1.6" fill="none" stroke="#7a2596" stroke-width="0.75"/>
<circle cx="285.62" cy="162.90" r="1.6" fill="none" stroke="#7a2596" stroke-width="0.75"/>
<circle cx="286.92" cy="164.05" r="1.6" fill="none" stroke="#7a2596" stroke-width="0.75"/>
<circle cx="288.22" cy="164.15" r="1.6" fill="none" stroke="#7a2596" stroke-width="0.75"/>
<circle cx="289.52" cy="164.44" r="1.6" fill="none" stroke="#7a2596" stroke-width="0.75"/>
<circle cx="290.82" cy="164.72" r="1.6" fill="none" stroke="#7a2596" stroke-width="0.75"/>
<circle cx="292.12" cy="164.89" r="1.6" fill="none" stroke="#7a2596" stroke-width="0.75"/>
<circle cx="293.42" cy="165.58" r="1.6" fill="none" stroke="#7a2596" stroke-width="0.75"/>
<circle cx="294.72" cy="166.23" r="1.6" fill="none" stroke="#7a2596" stroke-width="0.75"/>
<circle cx="296.02" cy="166.23" r="1.6" fill="none" stroke="#7a2596" stroke-width="0.75"/>
<circle cx="297.32" cy="166.64" r="1.6" fill="none" stroke="#7a2596" stroke-width="0.75"/>
<circle cx="298.62" cy="166.99" r="1.6" fill="none" stroke="#7a2596" stroke-width="0.75"/>
<circle cx="299.92" cy="167.42" r="1.6" fill="none" stroke="#7a2596" stroke-width="0.75"/>
<circle cx="301.22" cy="167.27" r="1.6" fill="none" stroke="#7a2596" stroke-width="0.75"/>
<circle cx="302.52" cy="167.96" r="1.6" fill="none" stroke="#7a2596" stroke-width="0.75"/>
<circle cx="303.82" cy="168.10" r="1.6" fill="none" stroke="#7a2596" stroke-width="0.75"/>
<circle cx="305.12" cy="168.86" r="1.6" fill="none" stroke="#7a2596" stroke-width="0.75"/>
<circle cx="306.42" cy="168.72" r="1.6" fill="none" stroke="#7a2596" stroke-width="0.75"/>
<circle cx="307.72" cy="169.35" r="1.6" fill="none" stroke="#7a2596" stroke-width="0.75"/>
<circle cx="309.02" cy="169.87" r="1.6" fill="none" stroke="#7a2596" stroke-width="0.75"/>
<circle cx="310.32" cy="169.67" r="1.6" fill="none" stroke="#7a2596" stroke-width="0.75"/>
<circle cx="311.62" cy="169.86" r="1.6" fill="none" stroke="#7a2596" stroke-width="0.75"/>
<circle cx="312.92" cy="170.31" r="1.6" fill="none" stroke="#7a2596" stroke-width="0.75"/>
<circle cx="314.22" cy="170.51" r="1.6" fill="none" stroke="#7a2596" stroke-width="0.75"/>
<circle cx="315.52" cy="170.51" r="1.6" fill="none" stroke="#7a2596" stroke-width="0.75"/>
<circle cx="316.82" cy="171.10" r="1.6" fill="none" stroke="#7a2596" stroke-width="0.75"/>
<circle cx="318.12" cy="171.69" r="1.6" fill="none" stroke="#7a2596" stroke-width="0.75"/>
<circle cx="319.42" cy="171.37" r="1.6" fill="none" stroke="#7a2596" stroke-width="0.75"/>
<circle cx="320.72" cy="171.59" r="1.6" fill="none" stroke="#7a2596" stroke-width="0.75"/>
<circle cx="322.02" cy="171.59" r="1.6" fill="none" stroke="#7a2596" stroke-width="0.75"/>
<circle cx="323.32" cy="172.10" r="1.6" fill="none" stroke="#7a2596" stroke-width="0.75"/>
<circle cx="324.62" cy="171.92" r="1.6" fill="none" stroke="#7a2596" stroke-width="0.75"/>
<circle cx="325.92" cy="172.13" r="1.6" fill="none" stroke="#7a2596" stroke-width="0.75"/>
<circle cx="327.22" cy="172.82" r="1.6" fill="none" stroke="#7a2596" stroke-width="0.75"/>
<circle cx="328.52" cy="172.50" r="1.6" fill="none" stroke="#7a2596" stroke-width="0.75"/>
<circle cx="329.82" cy="173.10" r="1.6" fill="none" stroke="#7a2596" stroke-width="0.75"/>
<circle cx="331.12" cy="173.35" r="1.6" fill="none" stroke="#7a2596" stroke-width="0.75"/>
<circle cx="332.42" cy="173.22" r="1.6" fill="none" stroke="#7a2596" stroke-width="0.75"/>
<circle cx="333.72" cy="173.44" r="1.6" fill="none" stroke="#7a2596" stroke-width="0.75"/>
<circle cx="335.02" cy="173.88" r="1.6" fill="none" stroke="#7a2596" stroke-width="0.75"/>
<circle cx="336.32" cy="173.57" r="1.6" fill="none" stroke="#7a2596" stroke-width="0.75"/>
<circle cx="337.62" cy="173.62" r="1.6" fill="none" stroke="#7a2596" stroke-width="0.75"/>
<circle cx="338.92" cy="173.60" r="1.6" fill="none" stroke="#7a2596" stroke-width="0.75"/>
<circle cx="340.22" cy="174.02" r="1.6" fill="none" stroke="#7a2596" stroke-width="0.75"/>
<circle cx="341.52" cy="174.43" r="1.6" fill="none" stroke="#7a2596" stroke-width="0.75"/>
<circle cx="342.82" cy="174.45" r="1.6" fill="none" stroke="#7a2596" stroke-width="0.75"/>
<circle cx="344.12" cy="174.19" r="1.6" fill="none" stroke="#7a2596" stroke-width="0.75"/>
<circle cx="345.42" cy="174.32" r="1.6" fill="none" stroke="#7a2596" stroke-width="0.75"/>
<circle cx="346.72" cy="174.49" r="1.6" fill="none" stroke="#7a2596" stroke-width="0.75"/>
<circle cx="348.02" cy="174.74" r="1.6" fill="none" stroke="#7a2596" stroke-width="0.75"/>
<circle cx="349.32" cy="174.75" r="1.6" fill="none" stroke="#7a2596" stroke-width="0.75"/>
<circle cx="350.62" cy="174.92" r="1.6" fill="none" stroke="#7a2596" stroke-width="0.75"/>
<circle cx="351.92" cy="175.02" r="1.6" fill="none" stroke="#7a2596" stroke-width="0.75"/>
<circle cx="353.22" cy="174.99" r="1.6" fill="none" stroke="#7a2596" stroke-width="0.75"/>
<circle cx="354.52" cy="175.11" r="1.6" fill="none" stroke="#7a2596" stroke-width="0.75"/>
<circle cx="355.82" cy="175.23" r="1.6" fill="none" stroke="#7a2596" stroke-width="0.75"/>
<circle cx="357.12" cy="175.24" r="1.6" fill="none" stroke="#7a2596" stroke-width="0.75"/>
<circle cx="358.42" cy="175.41" r="1.6" fill="none" stroke="#7a2596" stroke-width="0.75"/>
<circle cx="359.72" cy="175.71" r="1.6" fill="none" stroke="#7a2596" stroke-width="0.75"/>
<circle cx="361.02" cy="175.53" r="1.6" fill="none" stroke="#7a2596" stroke-width="0.75"/>
<circle cx="362.32" cy="175.49" r="1.6" fill="none" stroke="#7a2596" stroke-width="0.75"/>
<circle cx="363.62" cy="175.23" r="1.6" fill="none" stroke="#7a2596" stroke-width="0.75"/>
<circle cx="364.92" cy="175.64" r="1.6" fill="none" stroke="#7a2596" stroke-width="0.75"/>
<circle cx="366.22" cy="175.28" r="1.6" fill="none" stroke="#7a2596" stroke-width="0.75"/>
<circle cx="367.52" cy="175.43" r="1.6" fill="none" stroke="#7a2596" stroke-width="0.75"/>
<circle cx="368.82" cy="175.87" r="1.6" fill="none" stroke="#7a2596" stroke-width="0.75"/>
<circle cx="370.12" cy="175.88" r="1.6" fill="none" stroke="#7a2596" stroke-width="0.75"/>
<circle cx="371.42" cy="175.78" r="1.6" fill="none" stroke="#7a2596" stroke-width="0.75"/>
<circle cx="372.72" cy="175.56" r="1.6" fill="none" stroke="#7a2596" stroke-width="0.75"/>
<circle cx="374.02" cy="175.83" r="1.6" fill="none" stroke="#7a2596" stroke-width="0.75"/>
<circle cx="375.32" cy="175.82" r="1.6" fill="none" stroke="#7a2596" stroke-width="0.75"/>
<circle cx="376.62" cy="176.08" r="1.6" fill="none" stroke="#7a2596" stroke-width="0.75"/>
<circle cx="377.92" cy="176.38" r="1.6" fill="none" stroke="#7a2596" stroke-width="0.75"/>
<circle cx="379.22" cy="176.08" r="1.6" fill="none" stroke="#7a2596" stroke-width="0.75"/>
<circle cx="380.52" cy="175.95" r="1.6" fill="none" stroke="#7a2596" stroke-width="0.75"/>
<circle cx="381.82" cy="175.92" r="1.6" fill="none" stroke="#7a2596" stroke-width="0.75"/>
<circle cx="383.12" cy="176.14" r="1.6" fill="none" stroke="#7a2596" stroke-width="0.75"/>
<circle cx="384.42" cy="176.15" r="1.6" fill="none" stroke="#7a2596" stroke-width="0.75"/>
<circle cx="385.72" cy="176.02" r="1.6" fill="none" stroke="#7a2596" stroke-width="0.75"/>
<circle cx="387.02" cy="176.26" r="1.6" fill="none" stroke="#7a2596" stroke-width="0.75"/>
<circle cx="388.32" cy="176.08" r="1.6" fill="none" stroke="#7a2596" stroke-width="0.75"/>
<circle cx="389.62" cy="176.47" r="1.6" fill="none" stroke="#7a2596" stroke-width="0.75"/>
<circle cx="390.92" cy="176.48" r="1.6" fill="none" stroke="#7a2596" stroke-width="0.75"/>
<circle cx="392.22" cy="176.51" r="1.6" fill="none" stroke="#7a2596" stroke-width="0.75"/>
<circle cx="393.52" cy="176.28" r="1.6" fill="none" stroke="#7a2596" stroke-width="0.75"/>
<circle cx="394.82" cy="176.46" r="1.6" fill="none" stroke="#7a2596" stroke-width="0.75"/>
<circle cx="396.12" cy="176.38" r="1.6" fill="none" stroke="#7a2596" stroke-width="0.75"/>
<circle cx="397.42" cy="176.35" r="1.6" fill="none" stroke="#7a2596" stroke-width="0.75"/>
<circle cx="398.72" cy="176.38" r="1.6" fill="none" stroke="#7a2596" stroke-width="0.75"/>
<circle cx="400.02" cy="176.24" r="1.6" fill="none" stroke="#7a2596" stroke-width="0.75"/>
<circle cx="401.32" cy="176.23" r="1.6" fill="none" stroke="#7a2596" stroke-width="0.75"/>
<circle cx="402.62" cy="176.59" r="1.6" fill="none" stroke="#7a2596" stroke-width="0.75"/>
<circle cx="403.92" cy="176.45" r="1.6" fill="none" stroke="#7a2596" stroke-width="0.75"/>
<circle cx="405.22" cy="176.52" r="1.6" fill="none" stroke="#7a2596" stroke-width="0.75"/>
<circle cx="406.52" cy="176.64" r="1.6" fill="none" stroke="#7a2596" stroke-width="0.75"/>
<circle cx="407.82" cy="176.23" r="1.6" fill="none" stroke="#7a2596" stroke-width="0.75"/>
<path d="M235.60,177.42 L236.90,177.52 L238.20,177.53 L239.50,177.45 L240.80,177.58 L242.10,177.48 L243.40,177.32 L244.70,177.32 L246.00,177.39 L247.30,176.90 L248.60,174.43 L249.90,166.35 L251.20,135.03 L252.50,83.88 L253.80,56.68 L255.10,40.60 L256.40,24.08 L257.70,37.04 L259.00,58.19 L260.30,88.72 L261.60,113.06 L262.90,136.50 L264.20,145.96 L265.50,151.46 L266.80,156.63 L268.10,159.58 L269.40,162.67 L270.70,164.03 L272.00,164.82 L273.30,165.99 L274.60,166.82 L275.90,167.60 L277.20,168.06 L278.50,168.54 L279.80,169.20 L281.10,169.51 L282.40,169.91 L283.70,170.65 L285.00,171.24 L286.30,170.96 L287.60,171.57 L288.90,171.64 L290.20,171.76 L291.50,172.35 L292.80,172.19 L294.10,172.79 L295.40,172.43 L296.70,172.82 L298.00,172.82 L299.30,172.84 L300.60,173.26 L301.90,173.23 L303.20,173.51 L304.50,173.50 L305.80,173.40 L307.10,173.72 L308.40,173.86 L309.70,174.15 L311.00,173.88 L312.30,174.16 L313.60,173.92 L314.90,174.48 L316.20,174.23 L317.50,174.17 L318.80,174.58 L320.10,174.88 L321.40,174.44 L322.70,174.59 L324.00,174.72 L325.30,174.71 L326.60,175.05 L327.90,174.89 L329.20,174.96 L330.50,175.25 L331.80,175.05 L333.10,175.32 L334.40,175.11 L335.70,175.12 L337.00,175.05 L338.30,175.76 L339.60,175.42 L340.90,175.56 L342.20,175.55 L343.50,175.63 L344.80,175.65 L346.10,176.01 L347.40,175.54 L348.70,175.49 L350.00,175.63 L351.30,175.61 L352.60,176.00 L353.90,176.05 L355.20,175.79 L356.50,175.76 L357.80,175.97 L359.10,176.29 L360.40,175.64 L361.70,176.22 L363.00,176.00 L364.30,176.38 L365.60,176.08 L366.90,176.24 L368.20,176.08 L369.50,176.20 L370.80,176.60 L372.10,176.55 L373.40,176.39 L374.70,176.35 L376.00,176.23 L377.30,176.49 L378.60,176.58 L379.90,176.60 L381.20,176.63 L382.50,176.51 L383.80,176.70 L385.10,176.73 L386.40,176.95 L387.70,177.06 L389.00,176.80 L390.30,176.74 L391.60,176.87 L392.90,176.82 L394.20,176.83 L395.50,176.95 L396.80,176.85 L398.10,177.10 L399.40,177.03 L400.70,177.10 L402.00,177.07 L403.30,177.02 L404.60,177.02 L405.90,177.13 L407.20,177.12 L408.50,177.23" fill="none" stroke="#14148a" stroke-width="0.8"/>
<circle cx="235.60" cy="177.42" r="1.6" fill="none" stroke="#14148a" stroke-width="0.75"/>
<circle cx="236.90" cy="177.52" r="1.6" fill="none" stroke="#14148a" stroke-width="0.75"/>
<circle cx="238.20" cy="177.53" r="1.6" fill="none" stroke="#14148a" stroke-width="0.75"/>
<circle cx="239.50" cy="177.45" r="1.6" fill="none" stroke="#14148a" stroke-width="0.75"/>
<circle cx="240.80" cy="177.58" r="1.6" fill="none" stroke="#14148a" stroke-width="0.75"/>
<circle cx="242.10" cy="177.48" r="1.6" fill="none" stroke="#14148a" stroke-width="0.75"/>
<circle cx="243.40" cy="177.32" r="1.6" fill="none" stroke="#14148a" stroke-width="0.75"/>
<circle cx="244.70" cy="177.32" r="1.6" fill="none" stroke="#14148a" stroke-width="0.75"/>
<circle cx="246.00" cy="177.39" r="1.6" fill="none" stroke="#14148a" stroke-width="0.75"/>
<circle cx="247.30" cy="176.90" r="1.6" fill="none" stroke="#14148a" stroke-width="0.75"/>
<circle cx="248.60" cy="174.43" r="1.6" fill="none" stroke="#14148a" stroke-width="0.75"/>
<circle cx="249.90" cy="166.35" r="1.6" fill="none" stroke="#14148a" stroke-width="0.75"/>
<circle cx="251.20" cy="135.03" r="1.6" fill="none" stroke="#14148a" stroke-width="0.75"/>
<circle cx="252.50" cy="83.88" r="1.6" fill="none" stroke="#14148a" stroke-width="0.75"/>
<circle cx="253.80" cy="56.68" r="1.6" fill="none" stroke="#14148a" stroke-width="0.75"/>
<circle cx="255.10" cy="40.60" r="1.6" fill="none" stroke="#14148a" stroke-width="0.75"/>
<circle cx="256.40" cy="24.08" r="1.6" fill="none" stroke="#14148a" stroke-width="0.75"/>
<circle cx="257.70" cy="37.04" r="1.6" fill="none" stroke="#14148a" stroke-width="0.75"/>
<circle cx="259.00" cy="58.19" r="1.6" fill="none" stroke="#14148a" stroke-width="0.75"/>
<circle cx="260.30" cy="88.72" r="1.6" fill="none" stroke="#14148a" stroke-width="0.75"/>
<circle cx="261.60" cy="113.06" r="1.6" fill="none" stroke="#14148a" stroke-width="0.75"/>
<circle cx="262.90" cy="136.50" r="1.6" fill="none" stroke="#14148a" stroke-width="0.75"/>
<circle cx="264.20" cy="145.96" r="1.6" fill="none" stroke="#14148a" stroke-width="0.75"/>
<circle cx="265.50" cy="151.46" r="1.6" fill="none" stroke="#14148a" stroke-width="0.75"/>
<circle cx="266.80" cy="156.63" r="1.6" fill="none" stroke="#14148a" stroke-width="0.75"/>
<circle cx="268.10" cy="159.58" r="1.6" fill="none" stroke="#14148a" stroke-width="0.75"/>
<circle cx="269.40" cy="162.67" r="1.6" fill="none" stroke="#14148a" stroke-width="0.75"/>
<circle cx="270.70" cy="164.03" r="1.6" fill="none" stroke="#14148a" stroke-width="0.75"/>
<circle cx="272.00" cy="164.82" r="1.6" fill="none" stroke="#14148a" stroke-width="0.75"/>
<circle cx="273.30" cy="165.99" r="1.6" fill="none" stroke="#14148a" stroke-width="0.75"/>
<circle cx="274.60" cy="166.82" r="1.6" fill="none" stroke="#14148a" stroke-width="0.75"/>
<circle cx="275.90" cy="167.60" r="1.6" fill="none" stroke="#14148a" stroke-width="0.75"/>
<circle cx="277.20" cy="168.06" r="1.6" fill="none" stroke="#14148a" stroke-width="0.75"/>
<circle cx="278.50" cy="168.54" r="1.6" fill="none" stroke="#14148a" stroke-width="0.75"/>
<circle cx="279.80" cy="169.20" r="1.6" fill="none" stroke="#14148a" stroke-width="0.75"/>
<circle cx="281.10" cy="169.51" r="1.6" fill="none" stroke="#14148a" stroke-width="0.75"/>
<circle cx="282.40" cy="169.91" r="1.6" fill="none" stroke="#14148a" stroke-width="0.75"/>
<circle cx="283.70" cy="170.65" r="1.6" fill="none" stroke="#14148a" stroke-width="0.75"/>
<circle cx="285.00" cy="171.24" r="1.6" fill="none" stroke="#14148a" stroke-width="0.75"/>
<circle cx="286.30" cy="170.96" r="1.6" fill="none" stroke="#14148a" stroke-width="0.75"/>
<circle cx="287.60" cy="171.57" r="1.6" fill="none" stroke="#14148a" stroke-width="0.75"/>
<circle cx="288.90" cy="171.64" r="1.6" fill="none" stroke="#14148a" stroke-width="0.75"/>
<circle cx="290.20" cy="171.76" r="1.6" fill="none" stroke="#14148a" stroke-width="0.75"/>
<circle cx="291.50" cy="172.35" r="1.6" fill="none" stroke="#14148a" stroke-width="0.75"/>
<circle cx="292.80" cy="172.19" r="1.6" fill="none" stroke="#14148a" stroke-width="0.75"/>
<circle cx="294.10" cy="172.79" r="1.6" fill="none" stroke="#14148a" stroke-width="0.75"/>
<circle cx="295.40" cy="172.43" r="1.6" fill="none" stroke="#14148a" stroke-width="0.75"/>
<circle cx="296.70" cy="172.82" r="1.6" fill="none" stroke="#14148a" stroke-width="0.75"/>
<circle cx="298.00" cy="172.82" r="1.6" fill="none" stroke="#14148a" stroke-width="0.75"/>
<circle cx="299.30" cy="172.84" r="1.6" fill="none" stroke="#14148a" stroke-width="0.75"/>
<circle cx="300.60" cy="173.26" r="1.6" fill="none" stroke="#14148a" stroke-width="0.75"/>
<circle cx="301.90" cy="173.23" r="1.6" fill="none" stroke="#14148a" stroke-width="0.75"/>
<circle cx="303.20" cy="173.51" r="1.6" fill="none" stroke="#14148a" stroke-width="0.75"/>
<circle cx="304.50" cy="173.50" r="1.6" fill="none" stroke="#14148a" stroke-width="0.75"/>
<circle cx="305.80" cy="173.40" r="1.6" fill="none" stroke="#14148a" stroke-width="0.75"/>
<circle cx="307.10" cy="173.72" r="1.6" fill="none" stroke="#14148a" stroke-width="0.75"/>
<circle cx="308.40" cy="173.86" r="1.6" fill="none" stroke="#14148a" stroke-width="0.75"/>
<circle cx="309.70" cy="174.15" r="1.6" fill="none" stroke="#14148a" stroke-width="0.75"/>
<circle cx="311.00" cy="173.88" r="1.6" fill="none" stroke="#14148a" stroke-width="0.75"/>
<circle cx="312.30" cy="174.16" r="1.6" fill="none" stroke="#14148a" stroke-width="0.75"/>
<circle cx="313.60" cy="173.92" r="1.6" fill="none" stroke="#14148a" stroke-width="0.75"/>
<circle cx="314.90" cy="174.48" r="1.6" fill="none" stroke="#14148a" stroke-width="0.75"/>
<circle cx="316.20" cy="174.23" r="1.6" fill="none" stroke="#14148a" stroke-width="0.75"/>
<circle cx="317.50" cy="174.17" r="1.6" fill="none" stroke="#14148a" stroke-width="0.75"/>
<circle cx="318.80" cy="174.58" r="1.6" fill="none" stroke="#14148a" stroke-width="0.75"/>
<circle cx="320.10" cy="174.88" r="1.6" fill="none" stroke="#14148a" stroke-width="0.75"/>
<circle cx="321.40" cy="174.44" r="1.6" fill="none" stroke="#14148a" stroke-width="0.75"/>
<circle cx="322.70" cy="174.59" r="1.6" fill="none" stroke="#14148a" stroke-width="0.75"/>
<circle cx="324.00" cy="174.72" r="1.6" fill="none" stroke="#14148a" stroke-width="0.75"/>
<circle cx="325.30" cy="174.71" r="1.6" fill="none" stroke="#14148a" stroke-width="0.75"/>
<circle cx="326.60" cy="175.05" r="1.6" fill="none" stroke="#14148a" stroke-width="0.75"/>
<circle cx="327.90" cy="174.89" r="1.6" fill="none" stroke="#14148a" stroke-width="0.75"/>
<circle cx="329.20" cy="174.96" r="1.6" fill="none" stroke="#14148a" stroke-width="0.75"/>
<circle cx="330.50" cy="175.25" r="1.6" fill="none" stroke="#14148a" stroke-width="0.75"/>
<circle cx="331.80" cy="175.05" r="1.6" fill="none" stroke="#14148a" stroke-width="0.75"/>
<circle cx="333.10" cy="175.32" r="1.6" fill="none" stroke="#14148a" stroke-width="0.75"/>
<circle cx="334.40" cy="175.11" r="1.6" fill="none" stroke="#14148a" stroke-width="0.75"/>
<circle cx="335.70" cy="175.12" r="1.6" fill="none" stroke="#14148a" stroke-width="0.75"/>
<circle cx="337.00" cy="175.05" r="1.6" fill="none" stroke="#14148a" stroke-width="0.75"/>
<circle cx="338.30" cy="175.76" r="1.6" fill="none" stroke="#14148a" stroke-width="0.75"/>
<circle cx="339.60" cy="175.42" r="1.6" fill="none" stroke="#14148a" stroke-width="0.75"/>
<circle cx="340.90" cy="175.56" r="1.6" fill="none" stroke="#14148a" stroke-width="0.75"/>
<circle cx="342.20" cy="175.55" r="1.6" fill="none" stroke="#14148a" stroke-width="0.75"/>
<circle cx="343.50" cy="175.63" r="1.6" fill="none" stroke="#14148a" stroke-width="0.75"/>
<circle cx="344.80" cy="175.65" r="1.6" fill="none" stroke="#14148a" stroke-width="0.75"/>
<circle cx="346.10" cy="176.01" r="1.6" fill="none" stroke="#14148a" stroke-width="0.75"/>
<circle cx="347.40" cy="175.54" r="1.6" fill="none" stroke="#14148a" stroke-width="0.75"/>
<circle cx="348.70" cy="175.49" r="1.6" fill="none" stroke="#14148a" stroke-width="0.75"/>
<circle cx="350.00" cy="175.63" r="1.6" fill="none" stroke="#14148a" stroke-width="0.75"/>
<circle cx="351.30" cy="175.61" r="1.6" fill="none" stroke="#14148a" stroke-width="0.75"/>
<circle cx="352.60" cy="176.00" r="1.6" fill="none" stroke="#14148a" stroke-width="0.75"/>
<circle cx="353.90" cy="176.05" r="1.6" fill="none" stroke="#14148a" stroke-width="0.75"/>
<circle cx="355.20" cy="175.79" r="1.6" fill="none" stroke="#14148a" stroke-width="0.75"/>
<circle cx="356.50" cy="175.76" r="1.6" fill="none" stroke="#14148a" stroke-width="0.75"/>
<circle cx="357.80" cy="175.97" r="1.6" fill="none" stroke="#14148a" stroke-width="0.75"/>
<circle cx="359.10" cy="176.29" r="1.6" fill="none" stroke="#14148a" stroke-width="0.75"/>
<circle cx="360.40" cy="175.64" r="1.6" fill="none" stroke="#14148a" stroke-width="0.75"/>
<circle cx="361.70" cy="176.22" r="1.6" fill="none" stroke="#14148a" stroke-width="0.75"/>
<circle cx="363.00" cy="176.00" r="1.6" fill="none" stroke="#14148a" stroke-width="0.75"/>
<circle cx="364.30" cy="176.38" r="1.6" fill="none" stroke="#14148a" stroke-width="0.75"/>
<circle cx="365.60" cy="176.08" r="1.6" fill="none" stroke="#14148a" stroke-width="0.75"/>
<circle cx="366.90" cy="176.24" r="1.6" fill="none" stroke="#14148a" stroke-width="0.75"/>
<circle cx="368.20" cy="176.08" r="1.6" fill="none" stroke="#14148a" stroke-width="0.75"/>
<circle cx="369.50" cy="176.20" r="1.6" fill="none" stroke="#14148a" stroke-width="0.75"/>
<circle cx="370.80" cy="176.60" r="1.6" fill="none" stroke="#14148a" stroke-width="0.75"/>
<circle cx="372.10" cy="176.55" r="1.6" fill="none" stroke="#14148a" stroke-width="0.75"/>
<circle cx="373.40" cy="176.39" r="1.6" fill="none" stroke="#14148a" stroke-width="0.75"/>
<circle cx="374.70" cy="176.35" r="1.6" fill="none" stroke="#14148a" stroke-width="0.75"/>
<circle cx="376.00" cy="176.23" r="1.6" fill="none" stroke="#14148a" stroke-width="0.75"/>
<circle cx="377.30" cy="176.49" r="1.6" fill="none" stroke="#14148a" stroke-width="0.75"/>
<circle cx="378.60" cy="176.58" r="1.6" fill="none" stroke="#14148a" stroke-width="0.75"/>
<circle cx="379.90" cy="176.60" r="1.6" fill="none" stroke="#14148a" stroke-width="0.75"/>
<circle cx="381.20" cy="176.63" r="1.6" fill="none" stroke="#14148a" stroke-width="0.75"/>
<circle cx="382.50" cy="176.51" r="1.6" fill="none" stroke="#14148a" stroke-width="0.75"/>
<circle cx="383.80" cy="176.70" r="1.6" fill="none" stroke="#14148a" stroke-width="0.75"/>
<circle cx="385.10" cy="176.73" r="1.6" fill="none" stroke="#14148a" stroke-width="0.75"/>
<circle cx="386.40" cy="176.95" r="1.6" fill="none" stroke="#14148a" stroke-width="0.75"/>
<circle cx="387.70" cy="177.06" r="1.6" fill="none" stroke="#14148a" stroke-width="0.75"/>
<circle cx="389.00" cy="176.80" r="1.6" fill="none" stroke="#14148a" stroke-width="0.75"/>
<circle cx="390.30" cy="176.74" r="1.6" fill="none" stroke="#14148a" stroke-width="0.75"/>
<circle cx="391.60" cy="176.87" r="1.6" fill="none" stroke="#14148a" stroke-width="0.75"/>
<circle cx="392.90" cy="176.82" r="1.6" fill="none" stroke="#14148a" stroke-width="0.75"/>
<circle cx="394.20" cy="176.83" r="1.6" fill="none" stroke="#14148a" stroke-width="0.75"/>
<circle cx="395.50" cy="176.95" r="1.6" fill="none" stroke="#14148a" stroke-width="0.75"/>
<circle cx="396.80" cy="176.85" r="1.6" fill="none" stroke="#14148a" stroke-width="0.75"/>
<circle cx="398.10" cy="177.10" r="1.6" fill="none" stroke="#14148a" stroke-width="0.75"/>
<circle cx="399.40" cy="177.03" r="1.6" fill="none" stroke="#14148a" stroke-width="0.75"/>
<circle cx="400.70" cy="177.10" r="1.6" fill="none" stroke="#14148a" stroke-width="0.75"/>
<circle cx="402.00" cy="177.07" r="1.6" fill="none" stroke="#14148a" stroke-width="0.75"/>
<circle cx="403.30" cy="177.02" r="1.6" fill="none" stroke="#14148a" stroke-width="0.75"/>
<circle cx="404.60" cy="177.02" r="1.6" fill="none" stroke="#14148a" stroke-width="0.75"/>
<circle cx="405.90" cy="177.13" r="1.6" fill="none" stroke="#14148a" stroke-width="0.75"/>
<circle cx="407.20" cy="177.12" r="1.6" fill="none" stroke="#14148a" stroke-width="0.75"/>
<circle cx="408.50" cy="177.23" r="1.6" fill="none" stroke="#14148a" stroke-width="0.75"/>
</g>
<line x1="251.30" y1="177.60" x2="251.30" y2="180.60" stroke="#333" stroke-width="1" />
<text x="251.30" y="190.40" font-size="9.0" text-anchor="middle" fill="#222" font-weight="normal" >2.4</text>
<line x1="282.70" y1="177.60" x2="282.70" y2="180.60" stroke="#333" stroke-width="1" />
<text x="282.70" y="190.40" font-size="9.0" text-anchor="middle" fill="#222" font-weight="normal" >2.8</text>
<line x1="314.10" y1="177.60" x2="314.10" y2="180.60" stroke="#333" stroke-width="1" />
<text x="314.10" y="190.40" font-size="9.0" text-anchor="middle" fill="#222" font-weight="normal" >3.2</text>
<line x1="345.50" y1="177.60" x2="345.50" y2="180.60" stroke="#333" stroke-width="1" />
<text x="345.50" y="190.40" font-size="9.0" text-anchor="middle" fill="#222" font-weight="normal" >3.6</text>
<line x1="376.90" y1="177.60" x2="376.90" y2="180.60" stroke="#333" stroke-width="1" />
<text x="376.90" y="190.40" font-size="9.0" text-anchor="middle" fill="#222" font-weight="normal" >4.0</text>
<line x1="408.30" y1="177.60" x2="408.30" y2="180.60" stroke="#333" stroke-width="1" />
<text x="408.30" y="190.40" font-size="9.0" text-anchor="middle" fill="#222" font-weight="normal" >4.4</text>
<line x1="267.00" y1="177.60" x2="267.00" y2="179.60" stroke="#333" stroke-width="1" />
<line x1="298.40" y1="177.60" x2="298.40" y2="179.60" stroke="#333" stroke-width="1" />
<line x1="329.80" y1="177.60" x2="329.80" y2="179.60" stroke="#333" stroke-width="1" />
<line x1="361.20" y1="177.60" x2="361.20" y2="179.60" stroke="#333" stroke-width="1" />
<line x1="392.60" y1="177.60" x2="392.60" y2="179.60" stroke="#333" stroke-width="1" />
<text x="321.85" y="207.50" font-size="11.2" text-anchor="middle" fill="#222" font-weight="normal" >Time (ns)</text>
<text x="0" y="0" font-size="11.4" text-anchor="middle" fill="#222" transform="translate(226.3 88.3) rotate(-90)">Intensity (arb. units)</text>
<text x="217.50" y="11.80" font-size="11.5" text-anchor="start" fill="#000" font-weight="bold" >b</text>
<line x1="281.60" y1="14.30" x2="294.90" y2="14.30" stroke="#707070" stroke-width="1.2" />
<text x="297.6" y="17.60" font-size="9.5" fill="#222">FL/MMOH (τ<tspan font-size="5.5" dy="1.5">avg</tspan><tspan dy="-1.5">=4.33 ns)</tspan></text>
<line x1="281.60" y1="31.00" x2="294.90" y2="31.00" stroke="#ff3030" stroke-width="1.2" />
<text x="297.6" y="34.30" font-size="9.5" fill="#222">EY/MMOH (τ<tspan font-size="5.5" dy="1.5">avg</tspan><tspan dy="-1.5">=2.01 ns)</tspan></text>
<line x1="281.60" y1="47.40" x2="294.90" y2="47.40" stroke="#9a3ae0" stroke-width="1.2" />
<text x="297.6" y="50.70" font-size="9.5" fill="#222">ErB/MMOH (τ<tspan font-size="5.5" dy="1.5">avg</tspan><tspan dy="-1.5">=1.30 ns)</tspan></text>
<line x1="281.60" y1="64.50" x2="294.90" y2="64.50" stroke="#202098" stroke-width="1.2" />
<text x="297.6" y="67.80" font-size="9.5" fill="#222">RB/MMOH (τ<tspan font-size="5.5" dy="1.5">avg</tspan><tspan dy="-1.5">=0.83 ns)</tspan></text>
<rect x="480.35" y="136.77" width="21.9" height="37.63" fill="#49bbaa"/>
<rect x="523.15" y="79.55" width="21.9" height="94.86" fill="#49bbaa"/>
<rect x="566.15" y="51.55" width="21.9" height="122.85" fill="#49bbaa"/>
<rect x="609.15" y="21.08" width="21.9" height="153.32" fill="#49bbaa"/>
<line x1="491.30" y1="132.20" x2="491.30" y2="140.80" stroke="#000" stroke-width="1" />
<circle cx="491.30" cy="132.20" r="2.75" fill="#000"/>
<circle cx="491.30" cy="134.00" r="2.75" fill="#000"/>
<circle cx="491.30" cy="140.80" r="2.75" fill="#000"/>
<line x1="491.30" y1="140.60" x2="491.30" y2="147.30" stroke="#ff0000" stroke-width="1" />
<circle cx="491.30" cy="140.60" r="2.75" fill="#ff0000"/>
<circle cx="491.30" cy="141.50" r="2.75" fill="#ff0000"/>
<circle cx="491.30" cy="147.30" r="2.75" fill="#ff0000"/>
<line x1="534.10" y1="70.90" x2="534.10" y2="86.90" stroke="#000" stroke-width="1" />
<circle cx="534.10" cy="70.90" r="2.75" fill="#000"/>
<circle cx="534.10" cy="75.30" r="2.75" fill="#000"/>
<circle cx="534.10" cy="86.90" r="2.75" fill="#000"/>
<line x1="534.10" y1="89.60" x2="534.10" y2="103.00" stroke="#ff0000" stroke-width="1" />
<circle cx="534.10" cy="89.60" r="2.75" fill="#ff0000"/>
<circle cx="534.10" cy="93.10" r="2.75" fill="#ff0000"/>
<circle cx="534.10" cy="103.00" r="2.75" fill="#ff0000"/>
<line x1="577.10" y1="42.40" x2="577.10" y2="56.00" stroke="#000" stroke-width="1" />
<circle cx="577.10" cy="42.40" r="2.75" fill="#000"/>
<circle cx="577.10" cy="51.90" r="2.75" fill="#000"/>
<circle cx="577.10" cy="56.00" r="2.75" fill="#000"/>
<line x1="577.10" y1="66.20" x2="577.10" y2="77.40" stroke="#ff0000" stroke-width="1" />
<circle cx="577.10" cy="66.20" r="2.75" fill="#ff0000"/>
<circle cx="577.10" cy="73.50" r="2.75" fill="#ff0000"/>
<circle cx="577.10" cy="77.40" r="2.75" fill="#ff0000"/>
<line x1="620.10" y1="12.60" x2="620.10" y2="27.30" stroke="#000" stroke-width="1" />
<circle cx="620.10" cy="12.60" r="2.75" fill="#000"/>
<circle cx="620.10" cy="14.80" r="2.75" fill="#000"/>
<circle cx="620.10" cy="27.30" r="2.75" fill="#000"/>
<line x1="620.10" y1="41.60" x2="620.10" y2="54.00" stroke="#ff0000" stroke-width="1" />
<circle cx="620.10" cy="41.60" r="2.75" fill="#ff0000"/>
<circle cx="620.10" cy="43.80" r="2.75" fill="#ff0000"/>
<circle cx="620.10" cy="54.00" r="2.75" fill="#ff0000"/>
<line x1="469.60" y1="3.30" x2="641.60" y2="3.30" stroke="#555" stroke-width="1" />
<line x1="469.60" y1="3.30" x2="469.60" y2="174.40" stroke="#333" stroke-width="1" />
<line x1="469.10" y1="174.40" x2="641.60" y2="174.40" stroke="#111" stroke-width="1.1" />
<line x1="641.60" y1="3.30" x2="641.60" y2="174.40" stroke="#ff0000" stroke-width="1" />
<line x1="466.10" y1="174.40" x2="469.60" y2="174.40" stroke="#333" stroke-width="1" />
<text x="464.10" y="177.70" font-size="9.4" text-anchor="end" fill="#222" font-weight="normal" >0</text>
<line x1="466.10" y1="143.30" x2="469.60" y2="143.30" stroke="#333" stroke-width="1" />
<text x="464.10" y="146.60" font-size="9.4" text-anchor="end" fill="#222" font-weight="normal" >1</text>
<line x1="466.10" y1="112.20" x2="469.60" y2="112.20" stroke="#333" stroke-width="1" />
<text x="464.10" y="115.50" font-size="9.4" text-anchor="end" fill="#222" font-weight="normal" >2</text>
<line x1="466.10" y1="81.10" x2="469.60" y2="81.10" stroke="#333" stroke-width="1" />
<text x="464.10" y="84.40" font-size="9.4" text-anchor="end" fill="#222" font-weight="normal" >3</text>
<line x1="466.10" y1="50.00" x2="469.60" y2="50.00" stroke="#333" stroke-width="1" />
<text x="464.10" y="53.30" font-size="9.4" text-anchor="end" fill="#222" font-weight="normal" >4</text>
<line x1="466.10" y1="18.90" x2="469.60" y2="18.90" stroke="#333" stroke-width="1" />
<text x="464.10" y="22.20" font-size="9.4" text-anchor="end" fill="#222" font-weight="normal" >5</text>
<line x1="467.60" y1="158.85" x2="469.60" y2="158.85" stroke="#333" stroke-width="1" />
<line x1="467.60" y1="127.75" x2="469.60" y2="127.75" stroke="#333" stroke-width="1" />
<line x1="467.60" y1="96.65" x2="469.60" y2="96.65" stroke="#333" stroke-width="1" />
<line x1="467.60" y1="65.55" x2="469.60" y2="65.55" stroke="#333" stroke-width="1" />
<line x1="467.60" y1="34.45" x2="469.60" y2="34.45" stroke="#333" stroke-width="1" />
<line x1="467.60" y1="3.35" x2="469.60" y2="3.35" stroke="#333" stroke-width="1" />
<line x1="641.60" y1="174.40" x2="645.10" y2="174.40" stroke="#ff0000" stroke-width="1" />
<text x="650.80" y="177.80" font-size="9.4" text-anchor="start" fill="#ff0000" font-weight="normal" >0.00</text>
<line x1="641.60" y1="157.29" x2="644.20" y2="157.29" stroke="#ff0000" stroke-width="1" />
<line x1="641.60" y1="140.18" x2="645.10" y2="140.18" stroke="#ff0000" stroke-width="1" />
<text x="650.80" y="143.58" font-size="9.4" text-anchor="start" fill="#ff0000" font-weight="normal" >0.04</text>
<line x1="641.60" y1="123.07" x2="644.20" y2="123.07" stroke="#ff0000" stroke-width="1" />
<line x1="641.60" y1="105.96" x2="645.10" y2="105.96" stroke="#ff0000" stroke-width="1" />
<text x="650.80" y="109.36" font-size="9.4" text-anchor="start" fill="#ff0000" font-weight="normal" >0.08</text>
<line x1="641.60" y1="88.85" x2="644.20" y2="88.85" stroke="#ff0000" stroke-width="1" />
<line x1="641.60" y1="71.74" x2="645.10" y2="71.74" stroke="#ff0000" stroke-width="1" />
<text x="650.80" y="75.14" font-size="9.4" text-anchor="start" fill="#ff0000" font-weight="normal" >0.12</text>
<line x1="641.60" y1="54.63" x2="644.20" y2="54.63" stroke="#ff0000" stroke-width="1" />
<line x1="641.60" y1="37.52" x2="645.10" y2="37.52" stroke="#ff0000" stroke-width="1" />
<text x="650.80" y="40.92" font-size="9.4" text-anchor="start" fill="#ff0000" font-weight="normal" >0.16</text>
<line x1="641.60" y1="20.41" x2="644.20" y2="20.41" stroke="#ff0000" stroke-width="1" />
<line x1="641.60" y1="3.30" x2="645.10" y2="3.30" stroke="#ff0000" stroke-width="1" />
<text x="650.80" y="6.70" font-size="9.4" text-anchor="start" fill="#ff0000" font-weight="normal" >0.20</text>
<line x1="491.30" y1="174.40" x2="491.30" y2="177.90" stroke="#333" stroke-width="1" />
<line x1="534.10" y1="174.40" x2="534.10" y2="177.90" stroke="#333" stroke-width="1" />
<line x1="577.10" y1="174.40" x2="577.10" y2="177.90" stroke="#333" stroke-width="1" />
<line x1="620.10" y1="174.40" x2="620.10" y2="177.90" stroke="#333" stroke-width="1" />
<text x="498.50" y="188.20" font-size="9.5" text-anchor="end" fill="#222" transform="rotate(-30 498.50 188.20)">FL/MMOH</text>
<text x="541.30" y="188.20" font-size="9.5" text-anchor="end" fill="#222" transform="rotate(-30 541.30 188.20)">EY/MMOH</text>
<text x="584.30" y="188.20" font-size="9.5" text-anchor="end" fill="#222" transform="rotate(-30 584.30 188.20)">ErB/MMOH</text>
<text x="627.30" y="188.20" font-size="9.5" text-anchor="end" fill="#222" transform="rotate(-30 627.30 188.20)">RB/MMOH</text>
<text x="0" y="0" font-size="10.9" text-anchor="middle" fill="#222" transform="translate(449.2 86.9) rotate(-90)">Methanol time yield (mmol g<tspan font-size="6.3" dy="2.8">cat</tspan><tspan font-size="6.3" dy="-6.8" dx="1.2">-1</tspan><tspan dy="4"> h</tspan><tspan font-size="6.3" dy="-4">-1</tspan><tspan dy="4" dx="0.8">)</tspan></text>
<text x="0" y="0" font-size="11.2" text-anchor="middle" fill="#ff0000" transform="translate(676.4 84.6) rotate(90)">Quantum yield (%)</text>
<text x="421.30" y="14.40" font-size="11.5" text-anchor="start" fill="#000" font-weight="bold" >d</text>
<defs>
<linearGradient id="band" x1="0" x2="1" y1="0" y2="0">
<stop offset="0" stop-color="#0026c8"/><stop offset="0.2" stop-color="#0c54e2"/><stop offset="0.5" stop-color="#42b6fb"/><stop offset="0.8" stop-color="#0c54e2"/><stop offset="1" stop-color="#0022c6"/></linearGradient>
<linearGradient id="s0" x1="0" x2="1" y1="0" y2="0">
<stop offset="0" stop-color="#0028cc"/><stop offset="0.5" stop-color="#40b2fa"/><stop offset="1" stop-color="#0020c8"/></linearGradient>
<linearGradient id="glow" x1="0" x2="1" y1="0" y2="0">
<stop offset="0" stop-color="#eab8f0" stop-opacity="0"/><stop offset="0.15" stop-color="#eab8f0" stop-opacity="0.12"/><stop offset="0.3" stop-color="#eab8f0" stop-opacity="0.5"/><stop offset="0.42" stop-color="#eab8f0" stop-opacity="0.75"/><stop offset="0.5" stop-color="#eab8f0" stop-opacity="0.75"/><stop offset="0.58" stop-color="#eab8f0" stop-opacity="0.75"/><stop offset="0.7" stop-color="#eab8f0" stop-opacity="0.5"/><stop offset="0.85" stop-color="#eab8f0" stop-opacity="0.12"/><stop offset="1" stop-color="#eab8f0" stop-opacity="0"/></linearGradient>
<radialGradient id="glowtop" cx="0.5" cy="1" r="0.5" fx="0.5" fy="1" gradientTransform="translate(0 0) scale(1 1)">
<stop offset="0" stop-color="#eab8f0" stop-opacity="0.6"/><stop offset="0.5" stop-color="#eab8f0" stop-opacity="0.3"/><stop offset="1" stop-color="#eab8f0" stop-opacity="0"/></radialGradient>
<linearGradient id="glowv" x1="0" x2="0" y1="0" y2="1">
<stop offset="0" stop-color="#fff" stop-opacity="0"/><stop offset="0.1" stop-color="#fff" stop-opacity="0.8"/><stop offset="0.2" stop-color="#fff" stop-opacity="1"/><stop offset="0.96" stop-color="#fff" stop-opacity="1"/><stop offset="1" stop-color="#fff" stop-opacity="0.3"/></linearGradient>
<mask id="gm" maskUnits="userSpaceOnUse" x="0" y="268" width="685" height="168"><rect x="0" y="270" width="685" height="164" fill="url(#glowv)"/></mask>
<linearGradient id="rarrow" x1="0" x2="1" y1="0" y2="0">
<stop offset="0" stop-color="#e41e7c"/><stop offset="0.5" stop-color="#e2645c"/><stop offset="1" stop-color="#ec1c24"/></linearGradient>
</defs>
<text x="1.50" y="242.30" font-size="11.5" text-anchor="start" fill="#000" font-weight="bold" >c</text>
<mask id="gmL" maskUnits="userSpaceOnUse" x="60.400000000000006" y="260" width="60" height="180"><radialGradient id="gmLg" cx="0.5" cy="1" r="1" fx="0.5" fy="1"><stop offset="0" stop-color="#fff"/><stop offset="0.55" stop-color="#fff" stop-opacity="0.75"/><stop offset="1" stop-color="#fff" stop-opacity="0"/></radialGradient><rect x="66.4" y="271" width="48" height="24" fill="url(#gmLg)"/><rect x="66.4" y="295" width="48" height="135" fill="#fff"/><rect x="66.4" y="430" width="48" height="4" fill="#fff" fill-opacity="0.6"/></mask>
<g opacity="1.0" mask="url(#gmL)"><rect x="68.4" y="271" width="44" height="163" fill="url(#glow)"/></g>
<line x1="37.80" y1="246.90" x2="124.20" y2="246.90" stroke="#8494ee" stroke-width="1" />
<line x1="37.80" y1="251.70" x2="124.20" y2="251.70" stroke="#5060e2" stroke-width="1" />
<line x1="37.80" y1="282.20" x2="124.20" y2="282.20" stroke="#5060e2" stroke-width="1" />
<line x1="37.80" y1="287.30" x2="124.20" y2="287.30" stroke="#5060e2" stroke-width="1" />
<line x1="37.80" y1="292.40" x2="124.20" y2="292.40" stroke="#5060e2" stroke-width="1" />
<rect x="37.3" y="255.3" width="87.4" height="7.9" fill="url(#band)"/>
<rect x="37.3" y="295.5" width="87.4" height="7.2" fill="url(#band)"/>
<text x="24.2" y="263.1" font-size="10.2" font-weight="bold" fill="#111">S<tspan font-size="7" dy="3.6">2</tspan></text>
<text x="24.2" y="302.8" font-size="10.2" font-weight="bold" fill="#111">S<tspan font-size="7" dy="3.6">1</tspan></text>
<line x1="47.00" y1="430.40" x2="47.00" y2="257.20" stroke="#ffa868" stroke-width="1.3" />
<path d="M44.90,258.80 L47.00,253.20 L49.10,258.80 z" fill="#ff8a2a"/>
<line x1="53.40" y1="430.40" x2="53.40" y2="291.80" stroke="#ff8a2a" stroke-width="1.1" />
<path d="M51.30,293.80 L53.40,287.80 L55.50,293.80 z" fill="#ff7a1a"/>
<line x1="90.40" y1="290.30" x2="90.40" y2="427.50" stroke="#a474f0" stroke-width="1.4" />
<path d="M88.30,426.00 L90.40,431.00 L92.50,426.00 z" fill="#7a44e6"/>
<text x="0" y="0" font-size="10.8" fill="#ff8a2a" text-anchor="middle" transform="translate(42.4 356.5) rotate(-90)">Absorption</text>
<text x="0" y="0" font-size="10.8" fill="#8c4cf0" text-anchor="middle" transform="translate(107.8 357) rotate(-90)">Strong PL</text>
<mask id="gmR" maskUnits="userSpaceOnUse" x="437.2" y="260" width="60" height="180"><radialGradient id="gmRg" cx="0.5" cy="1" r="1" fx="0.5" fy="1"><stop offset="0" stop-color="#fff"/><stop offset="0.55" stop-color="#fff" stop-opacity="0.75"/><stop offset="1" stop-color="#fff" stop-opacity="0"/></radialGradient><rect x="443.2" y="271" width="48" height="24" fill="url(#gmRg)"/><rect x="443.2" y="295" width="48" height="135" fill="#fff"/><rect x="443.2" y="430" width="48" height="4" fill="#fff" fill-opacity="0.6"/></mask>
<g opacity="0.35" mask="url(#gmR)"><rect x="445.2" y="271" width="44" height="163" fill="url(#glow)"/></g>
<line x1="412.80" y1="247.40" x2="499.20" y2="247.40" stroke="#5060e2" stroke-width="1" />
<line x1="412.80" y1="252.70" x2="499.20" y2="252.70" stroke="#5060e2" stroke-width="1" />
<line x1="412.80" y1="280.50" x2="499.20" y2="280.50" stroke="#5060e2" stroke-width="1" />
<line x1="412.80" y1="284.40" x2="499.20" y2="284.40" stroke="#5060e2" stroke-width="1" />
<line x1="412.80" y1="293.40" x2="499.20" y2="293.40" stroke="#5060e2" stroke-width="1" />
<rect x="412.1" y="255.8" width="87.7" height="8.1" fill="url(#band)"/>
<rect x="412.1" y="296.0" width="87.7" height="7.6" fill="url(#band)"/>
<text x="398.7" y="263.1" font-size="10.2" font-weight="bold" fill="#111">S<tspan font-size="7" dy="3.6">2</tspan></text>
<text x="398.7" y="303.2" font-size="10.2" font-weight="bold" fill="#111">S<tspan font-size="7" dy="3.6">1</tspan></text>
<line x1="422.00" y1="430.40" x2="422.00" y2="258.20" stroke="#ffa868" stroke-width="1.3" />
<path d="M419.90,259.80 L422.00,254.20 L424.10,259.80 z" fill="#ff8a2a"/>
<line x1="428.40" y1="430.40" x2="428.40" y2="286.70" stroke="#ff8a2a" stroke-width="1.1" />
<path d="M426.30,288.70 L428.40,282.70 L430.50,288.70 z" fill="#ff7a1a"/>
<line x1="467.20" y1="286.30" x2="467.20" y2="427.50" stroke="#a474f0" stroke-width="1.4" />
<path d="M465.10,426.00 L467.20,431.00 L469.30,426.00 z" fill="#7a44e6"/>
<text x="0" y="0" font-size="10.8" fill="#ff8a2a" text-anchor="middle" transform="translate(418.4 356.5) rotate(-90)">Absorption</text>
<text x="0" y="0" font-size="10.8" fill="#8c4cf0" text-anchor="middle" transform="translate(482.0 355.4) rotate(-90)">Weak PL</text>
<text x="80.00" y="242.60" font-size="10.9" text-anchor="middle" fill="#222" font-weight="normal" >Weak SOC</text>
<text x="454.90" y="243.30" font-size="10.9" text-anchor="middle" fill="#ff1a1a" font-weight="normal" >Strong SOC</text>
<line x1="160.80" y1="306.10" x2="204.30" y2="306.10" stroke="#5060e2" stroke-width="1" />
<line x1="160.80" y1="309.40" x2="204.30" y2="309.40" stroke="#5060e2" stroke-width="1" />
<rect x="160.8" y="311.7" width="43.5" height="6.8" fill="url(#band)"/>
<text x="147.9" y="318.6" font-size="10.2" font-weight="bold" fill="#111">T<tspan font-size="6.6" dy="3.3">1</tspan></text>
<line x1="182.80" y1="318.50" x2="182.80" y2="427.00" stroke="#444" stroke-width="1" />
<path d="M180.8,426 L182.8,431 L184.8,426 z" fill="#111"/>
<text x="0" y="0" font-size="10.8" fill="#111" text-anchor="middle" transform="translate(196.8 373.8) rotate(-90)">Phosphorescence</text>
<path d="M125.1,287.4 C145,287 158,292 161.2,302" fill="none" stroke="#111" stroke-width="1"/>
<path d="M158.8,300.5 L161.3,304.5 L162.6,299.8 z" fill="#111"/>
<text x="134.90" y="281.70" font-size="10.6" text-anchor="start" fill="#222" font-weight="normal" >ISC</text>
<path d="M155.70,274.60 L155.70,283.90 M153.70,280.30 L155.70,283.90 L157.70,280.30" fill="none" stroke="#222" stroke-width="0.9"/>
<line x1="164.20" y1="301.40" x2="208.00" y2="301.40" stroke="#111" stroke-width="1" />
<path d="M207.5,299.3 L212.4,301.4 L207.5,303.5 z" fill="#111"/>
<text x="172.50" y="297.30" font-size="10.6" text-anchor="start" fill="#222" font-weight="normal" >PET</text>
<path d="M196.30,289.90 L196.30,299.60 M194.30,296.00 L196.30,299.60 L198.30,296.00" fill="none" stroke="#222" stroke-width="0.9"/>
<path d="M223.7,312.6 C213,306 212,292 222,286.5" fill="none" stroke="#111" stroke-width="1"/>
<path d="M219.6,285.3 L224.9,284.4 L222.6,289.3 z" fill="#111"/>
<text x="228.3" y="287.8" font-size="10.5" fill="#111">MMOH<tspan font-size="6.3" dy="3.2">red</tspan></text>
<text x="228.3" y="316.7" font-size="10.5" fill="#111">MMOH<tspan font-size="6.3" dy="3.2">ox</tspan></text>
<line x1="533.90" y1="307.30" x2="577.00" y2="307.30" stroke="#5060e2" stroke-width="1" />
<line x1="533.90" y1="310.40" x2="577.00" y2="310.40" stroke="#5060e2" stroke-width="1" />
<rect x="533.9" y="312.9" width="43.1" height="6.8" fill="url(#band)"/>
<text x="522.2" y="320.0" font-size="10.2" font-weight="bold" fill="#111">T<tspan font-size="6.6" dy="3.3">1</tspan></text>
<line x1="555.40" y1="319.70" x2="555.40" y2="427.00" stroke="#444" stroke-width="1" />
<path d="M553.4,426 L555.4,431.5 L557.4,426 z" fill="#111"/>
<text x="0" y="0" font-size="10.8" fill="#111" text-anchor="middle" transform="translate(569.2 373.8) rotate(-90)">Phosphorescence</text>
<path d="M501.5,281.6 C520,282.5 534,289 539.1,301" fill="none" stroke="#ff1a1a" stroke-width="1"/>
<path d="M536.7,299.6 L539.2,303.6 L540.6,298.9 z" fill="#ff1a1a"/>
<text x="513.20" y="277.80" font-size="10.6" text-anchor="start" fill="#ff1a1a" font-weight="normal" >ISC</text>
<path d="M533.40,280.10 L533.40,271.00 M531.40,274.60 L533.40,271.00 L535.40,274.60" fill="none" stroke="#ff1a1a" stroke-width="0.9"/>
<line x1="541.70" y1="302.70" x2="589.00" y2="302.70" stroke="#ff1a1a" stroke-width="1" />
<path d="M588.3,300.6 L593.2,302.7 L588.3,304.8 z" fill="#ff1a1a"/>
<text x="553.30" y="297.60" font-size="10.6" text-anchor="start" fill="#ff1a1a" font-weight="normal" >PET</text>
<path d="M577.20,300.00 L577.20,290.40 M575.20,294.00 L577.20,290.40 L579.20,294.00" fill="none" stroke="#ff1a1a" stroke-width="0.9"/>
<path d="M606.2,316.3 C596,310 595,294 605.3,288" fill="none" stroke="#111" stroke-width="1"/>
<path d="M602.4,286.7 L607.6,285.8 L605.4,290.6 z" fill="#111"/>
<text x="611" y="289.4" font-size="10.5" fill="#111">MMOH<tspan font-size="6.3" dy="3.2">red</tspan></text>
<text x="611" y="318.5" font-size="10.5" fill="#111">MMOH<tspan font-size="6.3" dy="3.2">ox</tspan></text>
<rect x="36" y="434.8" width="620" height="7.6" fill="url(#s0)"/>
<text x="23.5" y="442.3" font-size="10.2" font-weight="bold" fill="#111">S<tspan font-size="6.6" dy="3.3">0</tspan></text>
<path d="M278.7,337.9 L381.5,337.9 L381.5,334.4 L397.4,342.4 L381.5,350.7 L381.5,346.8 L278.7,346.8 z" fill="url(#rarrow)"/>
<text x="333.00" y="316.90" font-size="10.8" text-anchor="middle" fill="#ff1a1a" font-weight="normal" >Substitution of</text>
<text x="334.50" y="329.70" font-size="10.8" text-anchor="middle" fill="#ff1a1a" font-weight="normal" >heavier halogen atom</text>
<rect x="38.6" y="470.7" width="614.4" height="180.8" fill="none" stroke="#333" stroke-width="1"/>
<line x1="35.10" y1="651.50" x2="38.60" y2="651.50" stroke="#333" stroke-width="1" />
<text x="32.10" y="654.70" font-size="9.0" text-anchor="end" fill="#222" font-weight="normal" >0</text>
<line x1="36.60" y1="640.20" x2="38.60" y2="640.20" stroke="#333" stroke-width="1" />
<line x1="35.10" y1="628.90" x2="38.60" y2="628.90" stroke="#333" stroke-width="1" />
<text x="32.10" y="632.10" font-size="9.0" text-anchor="end" fill="#222" font-weight="normal" >1</text>
<line x1="36.60" y1="617.60" x2="38.60" y2="617.60" stroke="#333" stroke-width="1" />
<line x1="35.10" y1="606.30" x2="38.60" y2="606.30" stroke="#333" stroke-width="1" />
<text x="32.10" y="609.50" font-size="9.0" text-anchor="end" fill="#222" font-weight="normal" >2</text>
<line x1="36.60" y1="595.00" x2="38.60" y2="595.00" stroke="#333" stroke-width="1" />
<line x1="35.10" y1="583.70" x2="38.60" y2="583.70" stroke="#333" stroke-width="1" />
<text x="32.10" y="586.90" font-size="9.0" text-anchor="end" fill="#222" font-weight="normal" >3</text>
<line x1="36.60" y1="572.40" x2="38.60" y2="572.40" stroke="#333" stroke-width="1" />
<line x1="35.10" y1="561.10" x2="38.60" y2="561.10" stroke="#333" stroke-width="1" />
<text x="32.10" y="564.30" font-size="9.0" text-anchor="end" fill="#222" font-weight="normal" >4</text>
<line x1="36.60" y1="549.80" x2="38.60" y2="549.80" stroke="#333" stroke-width="1" />
<line x1="35.10" y1="538.50" x2="38.60" y2="538.50" stroke="#333" stroke-width="1" />
<text x="32.10" y="541.70" font-size="9.0" text-anchor="end" fill="#222" font-weight="normal" >5</text>
<line x1="36.60" y1="527.20" x2="38.60" y2="527.20" stroke="#333" stroke-width="1" />
<line x1="35.10" y1="515.90" x2="38.60" y2="515.90" stroke="#333" stroke-width="1" />
<text x="32.10" y="519.10" font-size="9.0" text-anchor="end" fill="#222" font-weight="normal" >6</text>
<line x1="36.60" y1="504.60" x2="38.60" y2="504.60" stroke="#333" stroke-width="1" />
<line x1="35.10" y1="493.30" x2="38.60" y2="493.30" stroke="#333" stroke-width="1" />
<text x="32.10" y="496.50" font-size="9.0" text-anchor="end" fill="#222" font-weight="normal" >7</text>
<line x1="36.60" y1="482.00" x2="38.60" y2="482.00" stroke="#333" stroke-width="1" />
<line x1="35.10" y1="470.70" x2="38.60" y2="470.70" stroke="#333" stroke-width="1" />
<text x="32.10" y="473.90" font-size="9.0" text-anchor="end" fill="#222" font-weight="normal" >8</text>
<line x1="38.60" y1="651.50" x2="38.60" y2="655.00" stroke="#333" stroke-width="1" />
<text x="38.60" y="665.70" font-size="9.0" text-anchor="middle" fill="#222" font-weight="normal" >0</text>
<line x1="77.00" y1="651.50" x2="77.00" y2="653.50" stroke="#333" stroke-width="1" />
<line x1="115.40" y1="651.50" x2="115.40" y2="655.00" stroke="#333" stroke-width="1" />
<text x="115.40" y="665.70" font-size="9.0" text-anchor="middle" fill="#222" font-weight="normal" >5</text>
<line x1="153.80" y1="651.50" x2="153.80" y2="653.50" stroke="#333" stroke-width="1" />
<line x1="192.20" y1="651.50" x2="192.20" y2="655.00" stroke="#333" stroke-width="1" />
<text x="192.20" y="665.70" font-size="9.0" text-anchor="middle" fill="#222" font-weight="normal" >10</text>
<line x1="230.60" y1="651.50" x2="230.60" y2="653.50" stroke="#333" stroke-width="1" />
<line x1="269.00" y1="651.50" x2="269.00" y2="655.00" stroke="#333" stroke-width="1" />
<text x="269.00" y="665.70" font-size="9.0" text-anchor="middle" fill="#222" font-weight="normal" >15</text>
<line x1="307.40" y1="651.50" x2="307.40" y2="653.50" stroke="#333" stroke-width="1" />
<line x1="345.80" y1="651.50" x2="345.80" y2="655.00" stroke="#333" stroke-width="1" />
<text x="345.80" y="665.70" font-size="9.0" text-anchor="middle" fill="#222" font-weight="normal" >20</text>
<line x1="384.20" y1="651.50" x2="384.20" y2="653.50" stroke="#333" stroke-width="1" />
<line x1="422.60" y1="651.50" x2="422.60" y2="655.00" stroke="#333" stroke-width="1" />
<text x="422.60" y="665.70" font-size="9.0" text-anchor="middle" fill="#222" font-weight="normal" >25</text>
<line x1="461.00" y1="651.50" x2="461.00" y2="653.50" stroke="#333" stroke-width="1" />
<line x1="499.40" y1="651.50" x2="499.40" y2="655.00" stroke="#333" stroke-width="1" />
<text x="499.40" y="665.70" font-size="9.0" text-anchor="middle" fill="#222" font-weight="normal" >30</text>
<line x1="537.80" y1="651.50" x2="537.80" y2="653.50" stroke="#333" stroke-width="1" />
<line x1="576.20" y1="651.50" x2="576.20" y2="655.00" stroke="#333" stroke-width="1" />
<text x="576.20" y="665.70" font-size="9.0" text-anchor="middle" fill="#222" font-weight="normal" >35</text>
<line x1="614.60" y1="651.50" x2="614.60" y2="653.50" stroke="#333" stroke-width="1" />
<line x1="653.00" y1="651.50" x2="653.00" y2="655.00" stroke="#333" stroke-width="1" />
<text x="653.00" y="665.70" font-size="9.0" text-anchor="middle" fill="#222" font-weight="normal" >40</text>
<text x="348.05" y="685.60" font-size="10.8" text-anchor="middle" fill="#222" font-weight="normal" >Pressure (atm)</text>
<text x="0" y="0" font-size="10.3" text-anchor="middle" fill="#222" transform="translate(10.9 562.3) rotate(-90)">Methanol time yield (mmol g<tspan font-size="6.0" dy="2.6">cat</tspan><tspan font-size="6.0" dy="-6.6" dx="1.2">-1</tspan><tspan dy="4"> h</tspan><tspan font-size="6.0" dy="-4">-1</tspan><tspan dy="4" dx="0.8">)</tspan></text>
<text x="3.00" y="474.30" font-size="11.5" text-anchor="start" fill="#000" font-weight="bold" >e</text>
<line x1="53.96" y1="470.70" x2="53.96" y2="651.50" stroke="#555" stroke-width="1.3" stroke-dasharray="7.8 5.25" stroke-dashoffset="4.1"/>
<polygon points="53.96,476.00 55.70,479.90 59.95,480.35 56.78,483.21 57.66,487.40 53.96,485.26 50.26,487.40 51.14,483.21 47.97,480.35 52.22,479.90" fill="#ff0000" stroke="#111" stroke-width="0.9"/>
<text x="68.60" y="486.70" font-size="11.1" text-anchor="start" fill="#ee1c24" font-weight="normal" >This work</text>
<polygon points="53.96,637.2 59.96,643.2 53.96,649.2 47.96,643.2" fill="#d010d0" stroke="#111" stroke-width="0.9"/>
<polygon points="53.96,635.8 59.96,641.8 53.96,647.8 47.96,641.8" fill="#d010d0" stroke="#111" stroke-width="0.9"/>
<circle cx="53.96" cy="648.0" r="4.6" fill="#ff8000" stroke="#111" stroke-width="0.9"/>
<circle cx="53.96" cy="649.3" r="4.6" fill="#ff8000" stroke="#111" stroke-width="0.9"/>
<circle cx="53.96" cy="650.5" r="4.6" fill="#ff8000" stroke="#111" stroke-width="0.9"/>
<circle cx="53.96" cy="651.4" r="4.6" fill="#ff8000" stroke="#111" stroke-width="0.9"/>
<text x="63.60" y="580.90" font-size="11.1" text-anchor="start" fill="#cc30cc" font-weight="normal" >ND-pMMO</text>
<text x="63.60" y="596.30" font-size="11.1" text-anchor="start" fill="#cc30cc" font-weight="normal" >pMMO-m3</text>
<text x="63.6" y="611.6" font-size="11.1" fill="#ff5522">ZnO/Fe<tspan font-size="7" dy="3">2</tspan><tspan dy="-3">O</tspan><tspan font-size="7" dy="3">3</tspan></text>
<text x="63.6" y="627.2" font-size="11.1" fill="#ff5522">BiVO<tspan font-size="7" dy="3">4</tspan></text>
<text x="63.6" y="642.8" font-size="11.1" fill="#ff5522">La-WO<tspan font-size="7" dy="3">3</tspan></text>
<polygon points="125.06,655.10 130.76,645.30 136.46,655.10" fill="#3fb3a3" stroke="#111" stroke-width="0.9"/>
<text x="141.20" y="644.40" font-size="11.1" text-anchor="start" fill="#3a9a8c" font-weight="normal" >Cu-MOR</text>
<circle cx="355.9" cy="543.4" r="4.5" fill="#ff8000" stroke="#111" stroke-width="0.9"/>
<text x="336.6" y="533.2" font-size="11.2" fill="#ff5522">Ag/TiO<tspan font-size="6.8" dy="3">2</tspan></text>
<polygon points="340.10,651.20 345.80,641.40 351.50,651.20" fill="#3fb3a3" stroke="#111" stroke-width="0.9"/>
<text x="324.2" y="634" font-size="11.0" fill="#3a9a8c">FeN<tspan font-size="6.8" dy="3">4</tspan><tspan dy="-3">-C</tspan></text>
<polygon points="401.54,654.50 407.24,644.70 412.94,654.50" fill="#3fb3a3" stroke="#111" stroke-width="0.9"/>
<text x="381.50" y="639.80" font-size="11.0" text-anchor="start" fill="#3a9a8c" font-weight="normal" >Au-ZSM-5</text>
<polygon points="493.70,569.30 499.40,559.50 505.10,569.30" fill="#3fb3a3" stroke="#111" stroke-width="0.9"/>
<text x="481.50" y="552.10" font-size="11.0" text-anchor="start" fill="#3a9a8c" font-weight="normal" >MIL-53</text>
<polygon points="501.38,652.10 507.08,642.30 512.78,652.10" fill="#3fb3a3" stroke="#111" stroke-width="0.9"/>
<text x="476.6" y="633.3" font-size="11.0" fill="#3a9a8c">AuPd/TiO<tspan font-size="6.8" dy="3">2</tspan></text>
<polygon points="524.42,655.30 530.12,645.50 535.82,655.30" fill="#3fb3a3" stroke="#111" stroke-width="0.9"/>
<text x="536.90" y="644.90" font-size="11.0" text-anchor="start" fill="#3a9a8c" font-weight="normal" >Cu-ZSM-5</text>
<polygon points="543.80,478.60 545.46,482.32 549.51,482.75 546.48,485.47 547.33,489.45 543.80,487.42 540.27,489.45 541.12,485.47 538.09,482.75 542.14,482.32" fill="#dd0000" stroke="#111" stroke-width="0.9"/>
<polygon points="543.4,495.5 549.4,501.5 543.4,507.5 537.4,501.5" fill="#d010d0" stroke="#111" stroke-width="0.9"/>
<circle cx="543.6" cy="519.4" r="4.9" fill="#ff8000" stroke="#111" stroke-width="0.9"/>
<polygon points="538.20,540.40 544.00,530.40 549.80,540.40" fill="#3fb3a3" stroke="#111" stroke-width="0.9"/>
<text x="554.60" y="488.00" font-size="11.1" text-anchor="start" fill="#222" font-weight="normal" >Photobiocatalysis</text>
<text x="554.60" y="505.60" font-size="11.1" text-anchor="start" fill="#222" font-weight="normal" >Biocatalysis</text>
<text x="554.60" y="523.10" font-size="11.1" text-anchor="start" fill="#222" font-weight="normal" >Photocatalysis</text>
<text x="554.60" y="540.60" font-size="11.1" text-anchor="start" fill="#222" font-weight="normal" >Thermal catalysis</text>
</svg></body></html>
